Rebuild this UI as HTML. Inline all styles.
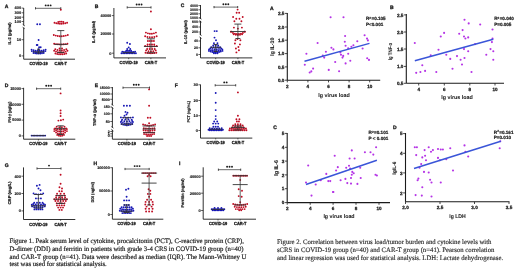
<!DOCTYPE html><html><head><meta charset="utf-8"><style>html,body{margin:0;padding:0;background:#fff;}svg{display:block;filter:blur(0.25px);text-rendering:geometricPrecision;}.cap{position:absolute;font-family:"Liberation Serif",serif;color:#222;white-space:nowrap;}</style></head><body>
<svg width="520" height="269" viewBox="0 0 520 269" style="position:absolute;left:0;top:0;font-family:'Liberation Sans',sans-serif;font-weight:bold">
<rect width="520" height="269" fill="#fff"/>
<text x="4.80" y="8.30" font-size="5.0" text-anchor="start" fill="#1a1a1a" font-weight="bold" stroke="#1a1a1a" stroke-width="0.3">A</text>
<line x1="23.70" y1="8.00" x2="23.70" y2="59.20" stroke="#1a1a1a" stroke-width="0.9"/>
<line x1="23.70" y1="59.20" x2="75.00" y2="59.20" stroke="#1a1a1a" stroke-width="0.9"/>
<line x1="38.60" y1="59.20" x2="38.60" y2="60.50" stroke="#1a1a1a" stroke-width="0.7"/>
<line x1="60.80" y1="59.20" x2="60.80" y2="60.50" stroke="#1a1a1a" stroke-width="0.7"/>
<text x="38.60" y="65.30" font-size="4.4" text-anchor="middle" fill="#1a1a1a" font-weight="bold" stroke="#1a1a1a" stroke-width="0.3" textLength="18.2" lengthAdjust="spacingAndGlyphs">COVID-19</text>
<text x="60.80" y="65.30" font-size="4.4" text-anchor="middle" fill="#1a1a1a" font-weight="bold" stroke="#1a1a1a" stroke-width="0.3" textLength="12.4" lengthAdjust="spacingAndGlyphs">CAR-T</text>
<line x1="21.60" y1="8.10" x2="23.70" y2="8.10" stroke="#1a1a1a" stroke-width="0.7"/>
<text x="21.10" y="9.45" font-size="3.9" text-anchor="end" fill="#1a1a1a" font-weight="bold" stroke="#1a1a1a" stroke-width="0.15">400</text>
<line x1="21.60" y1="12.80" x2="23.70" y2="12.80" stroke="#1a1a1a" stroke-width="0.7"/>
<text x="21.10" y="14.15" font-size="3.9" text-anchor="end" fill="#1a1a1a" font-weight="bold" stroke="#1a1a1a" stroke-width="0.15">300</text>
<line x1="21.60" y1="17.20" x2="23.70" y2="17.20" stroke="#1a1a1a" stroke-width="0.7"/>
<text x="21.10" y="18.55" font-size="3.9" text-anchor="end" fill="#1a1a1a" font-weight="bold" stroke="#1a1a1a" stroke-width="0.15">200</text>
<line x1="21.60" y1="21.50" x2="23.70" y2="21.50" stroke="#1a1a1a" stroke-width="0.7"/>
<text x="21.10" y="22.85" font-size="3.9" text-anchor="end" fill="#1a1a1a" font-weight="bold" stroke="#1a1a1a" stroke-width="0.15">100</text>
<line x1="21.60" y1="39.70" x2="23.70" y2="39.70" stroke="#1a1a1a" stroke-width="0.7"/>
<text x="21.10" y="41.05" font-size="3.9" text-anchor="end" fill="#1a1a1a" font-weight="bold" stroke="#1a1a1a" stroke-width="0.15">10</text>
<line x1="21.60" y1="55.90" x2="23.70" y2="55.90" stroke="#1a1a1a" stroke-width="0.7"/>
<text x="21.10" y="57.25" font-size="3.9" text-anchor="end" fill="#1a1a1a" font-weight="bold" stroke="#1a1a1a" stroke-width="0.15">0</text>
<rect x="22.9" y="25.5" width="1.6" height="2.0" fill="#fff"/>
<line x1="22.50" y1="24.10" x2="24.90" y2="25.90" stroke="#1a1a1a" stroke-width="0.6"/>
<line x1="22.50" y1="27.10" x2="24.90" y2="28.90" stroke="#1a1a1a" stroke-width="0.6"/>
<text x="11.20" y="33.40" font-size="4.1" text-anchor="middle" fill="#1a1a1a" font-weight="bold" stroke="#1a1a1a" stroke-width="0.2" transform="rotate(-90 11.2 33.4)" textLength="22.0" lengthAdjust="spacingAndGlyphs">IL-2 (pg/ml)</text>
<line x1="35.50" y1="8.30" x2="60.80" y2="8.30" stroke="#6a6a6a" stroke-width="1.0"/>
<line x1="35.50" y1="7.20" x2="35.50" y2="9.40" stroke="#333" stroke-width="0.9"/>
<line x1="60.80" y1="7.20" x2="60.80" y2="9.40" stroke="#333" stroke-width="0.9"/>
<circle cx="45.70" cy="5.40" r="0.95" fill="#1a1a1a"/>
<circle cx="48.15" cy="5.40" r="0.95" fill="#1a1a1a"/>
<circle cx="50.60" cy="5.40" r="0.95" fill="#1a1a1a"/>
<circle cx="37.25" cy="24.30" r="0.95" fill="#1616b4"/>
<circle cx="39.95" cy="24.30" r="0.95" fill="#1616b4"/>
<circle cx="38.60" cy="40.00" r="0.95" fill="#1616b4"/>
<circle cx="36.75" cy="45.00" r="0.95" fill="#1616b4"/>
<circle cx="37.45" cy="45.00" r="0.95" fill="#1616b4"/>
<circle cx="39.10" cy="47.30" r="0.95" fill="#1616b4"/>
<circle cx="40.70" cy="47.30" r="0.95" fill="#1616b4"/>
<circle cx="38.60" cy="49.30" r="0.95" fill="#1616b4"/>
<circle cx="31.60" cy="49.60" r="0.95" fill="#1616b4"/>
<circle cx="33.60" cy="50.19" r="0.95" fill="#1616b4"/>
<circle cx="35.60" cy="50.58" r="0.95" fill="#1616b4"/>
<circle cx="37.60" cy="50.78" r="0.95" fill="#1616b4"/>
<circle cx="39.60" cy="50.78" r="0.95" fill="#1616b4"/>
<circle cx="41.60" cy="50.58" r="0.95" fill="#1616b4"/>
<circle cx="43.60" cy="50.19" r="0.95" fill="#1616b4"/>
<circle cx="45.60" cy="49.60" r="0.95" fill="#1616b4"/>
<circle cx="31.80" cy="51.10" r="0.95" fill="#1616b4"/>
<circle cx="33.50" cy="51.62" r="0.95" fill="#1616b4"/>
<circle cx="35.20" cy="52.00" r="0.95" fill="#1616b4"/>
<circle cx="36.90" cy="52.22" r="0.95" fill="#1616b4"/>
<circle cx="38.60" cy="52.30" r="0.95" fill="#1616b4"/>
<circle cx="40.30" cy="52.22" r="0.95" fill="#1616b4"/>
<circle cx="42.00" cy="52.00" r="0.95" fill="#1616b4"/>
<circle cx="43.70" cy="51.62" r="0.95" fill="#1616b4"/>
<circle cx="45.40" cy="51.10" r="0.95" fill="#1616b4"/>
<circle cx="33.50" cy="53.00" r="0.95" fill="#1616b4"/>
<circle cx="35.20" cy="53.33" r="0.95" fill="#1616b4"/>
<circle cx="36.90" cy="53.53" r="0.95" fill="#1616b4"/>
<circle cx="38.60" cy="53.60" r="0.95" fill="#1616b4"/>
<circle cx="40.30" cy="53.53" r="0.95" fill="#1616b4"/>
<circle cx="42.00" cy="53.33" r="0.95" fill="#1616b4"/>
<circle cx="43.70" cy="53.00" r="0.95" fill="#1616b4"/>
<circle cx="60.80" cy="9.70" r="0.95" fill="#be0c22"/>
<circle cx="58.25" cy="22.00" r="0.95" fill="#be0c22"/>
<circle cx="59.95" cy="21.64" r="0.95" fill="#be0c22"/>
<circle cx="61.65" cy="21.64" r="0.95" fill="#be0c22"/>
<circle cx="63.35" cy="22.00" r="0.95" fill="#be0c22"/>
<circle cx="54.50" cy="22.80" r="0.95" fill="#be0c22"/>
<circle cx="56.30" cy="23.29" r="0.95" fill="#be0c22"/>
<circle cx="58.10" cy="23.62" r="0.95" fill="#be0c22"/>
<circle cx="59.90" cy="23.78" r="0.95" fill="#be0c22"/>
<circle cx="61.70" cy="23.78" r="0.95" fill="#be0c22"/>
<circle cx="63.50" cy="23.62" r="0.95" fill="#be0c22"/>
<circle cx="65.30" cy="23.29" r="0.95" fill="#be0c22"/>
<circle cx="67.10" cy="22.80" r="0.95" fill="#be0c22"/>
<circle cx="53.80" cy="35.00" r="0.95" fill="#be0c22"/>
<circle cx="55.80" cy="35.59" r="0.95" fill="#be0c22"/>
<circle cx="57.80" cy="35.98" r="0.95" fill="#be0c22"/>
<circle cx="59.80" cy="36.18" r="0.95" fill="#be0c22"/>
<circle cx="61.80" cy="36.18" r="0.95" fill="#be0c22"/>
<circle cx="63.80" cy="35.98" r="0.95" fill="#be0c22"/>
<circle cx="65.80" cy="35.59" r="0.95" fill="#be0c22"/>
<circle cx="67.80" cy="35.00" r="0.95" fill="#be0c22"/>
<circle cx="54.15" cy="43.80" r="0.95" fill="#be0c22"/>
<circle cx="56.05" cy="44.09" r="0.95" fill="#be0c22"/>
<circle cx="57.95" cy="44.29" r="0.95" fill="#be0c22"/>
<circle cx="59.85" cy="44.39" r="0.95" fill="#be0c22"/>
<circle cx="61.75" cy="44.39" r="0.95" fill="#be0c22"/>
<circle cx="63.65" cy="44.29" r="0.95" fill="#be0c22"/>
<circle cx="65.55" cy="44.09" r="0.95" fill="#be0c22"/>
<circle cx="67.45" cy="43.80" r="0.95" fill="#be0c22"/>
<circle cx="59.55" cy="48.50" r="0.95" fill="#be0c22"/>
<circle cx="62.05" cy="48.50" r="0.95" fill="#be0c22"/>
<circle cx="55.30" cy="49.30" r="0.95" fill="#be0c22"/>
<circle cx="57.50" cy="50.07" r="0.95" fill="#be0c22"/>
<circle cx="59.70" cy="50.45" r="0.95" fill="#be0c22"/>
<circle cx="61.90" cy="50.45" r="0.95" fill="#be0c22"/>
<circle cx="64.10" cy="50.07" r="0.95" fill="#be0c22"/>
<circle cx="66.30" cy="49.30" r="0.95" fill="#be0c22"/>
<circle cx="54.15" cy="50.70" r="0.95" fill="#be0c22"/>
<circle cx="56.05" cy="51.58" r="0.95" fill="#be0c22"/>
<circle cx="57.95" cy="52.17" r="0.95" fill="#be0c22"/>
<circle cx="59.85" cy="52.46" r="0.95" fill="#be0c22"/>
<circle cx="61.75" cy="52.46" r="0.95" fill="#be0c22"/>
<circle cx="63.65" cy="52.17" r="0.95" fill="#be0c22"/>
<circle cx="65.55" cy="51.58" r="0.95" fill="#be0c22"/>
<circle cx="67.45" cy="50.70" r="0.95" fill="#be0c22"/>
<circle cx="55.40" cy="53.50" r="0.95" fill="#be0c22"/>
<circle cx="57.20" cy="53.94" r="0.95" fill="#be0c22"/>
<circle cx="59.00" cy="54.21" r="0.95" fill="#be0c22"/>
<circle cx="60.80" cy="54.30" r="0.95" fill="#be0c22"/>
<circle cx="62.60" cy="54.21" r="0.95" fill="#be0c22"/>
<circle cx="64.40" cy="53.94" r="0.95" fill="#be0c22"/>
<circle cx="66.20" cy="53.50" r="0.95" fill="#be0c22"/>
<line x1="38.60" y1="49.20" x2="38.60" y2="53.20" stroke="#3a3a3a" stroke-width="0.8"/>
<line x1="33.10" y1="51.90" x2="44.10" y2="51.90" stroke="#333" stroke-width="0.9"/>
<line x1="37.10" y1="49.20" x2="40.10" y2="49.20" stroke="#333" stroke-width="0.9"/>
<line x1="37.10" y1="53.20" x2="40.10" y2="53.20" stroke="#333" stroke-width="0.9"/>
<line x1="60.80" y1="30.60" x2="60.80" y2="52.50" stroke="#3a3a3a" stroke-width="0.8"/>
<line x1="54.30" y1="44.40" x2="67.30" y2="44.40" stroke="#333" stroke-width="0.9"/>
<line x1="57.30" y1="30.60" x2="64.30" y2="30.60" stroke="#333" stroke-width="0.9"/>
<line x1="57.30" y1="52.50" x2="64.30" y2="52.50" stroke="#333" stroke-width="0.9"/>
<text x="94.80" y="8.30" font-size="5.0" text-anchor="start" fill="#1a1a1a" font-weight="bold" stroke="#1a1a1a" stroke-width="0.3">B</text>
<line x1="113.90" y1="8.00" x2="113.90" y2="57.90" stroke="#1a1a1a" stroke-width="0.9"/>
<line x1="113.90" y1="57.90" x2="166.00" y2="57.90" stroke="#1a1a1a" stroke-width="0.9"/>
<line x1="128.70" y1="57.90" x2="128.70" y2="59.20" stroke="#1a1a1a" stroke-width="0.7"/>
<line x1="150.90" y1="57.90" x2="150.90" y2="59.20" stroke="#1a1a1a" stroke-width="0.7"/>
<text x="128.70" y="64.00" font-size="4.4" text-anchor="middle" fill="#1a1a1a" font-weight="bold" stroke="#1a1a1a" stroke-width="0.3" textLength="18.2" lengthAdjust="spacingAndGlyphs">COVID-19</text>
<text x="150.90" y="64.00" font-size="4.4" text-anchor="middle" fill="#1a1a1a" font-weight="bold" stroke="#1a1a1a" stroke-width="0.3" textLength="12.4" lengthAdjust="spacingAndGlyphs">CAR-T</text>
<line x1="111.80" y1="15.60" x2="113.90" y2="15.60" stroke="#1a1a1a" stroke-width="0.7"/>
<text x="111.30" y="16.95" font-size="3.9" text-anchor="end" fill="#1a1a1a" font-weight="bold" stroke="#1a1a1a" stroke-width="0.15">40000</text>
<line x1="111.80" y1="34.00" x2="113.90" y2="34.00" stroke="#1a1a1a" stroke-width="0.7"/>
<text x="111.30" y="35.35" font-size="3.9" text-anchor="end" fill="#1a1a1a" font-weight="bold" stroke="#1a1a1a" stroke-width="0.15">20000</text>
<line x1="111.80" y1="53.20" x2="113.90" y2="53.20" stroke="#1a1a1a" stroke-width="0.7"/>
<text x="111.30" y="54.55" font-size="3.9" text-anchor="end" fill="#1a1a1a" font-weight="bold" stroke="#1a1a1a" stroke-width="0.15">0</text>
<text x="95.00" y="31.90" font-size="4.1" text-anchor="middle" fill="#1a1a1a" font-weight="bold" stroke="#1a1a1a" stroke-width="0.2" transform="rotate(-90 95.0 31.9)" textLength="22.3" lengthAdjust="spacingAndGlyphs">IL-6 (pg/ml)</text>
<line x1="127.20" y1="7.40" x2="151.00" y2="7.40" stroke="#6a6a6a" stroke-width="1.0"/>
<line x1="127.20" y1="6.30" x2="127.20" y2="8.50" stroke="#333" stroke-width="0.9"/>
<line x1="151.00" y1="6.30" x2="151.00" y2="8.50" stroke="#333" stroke-width="0.9"/>
<circle cx="136.65" cy="4.50" r="0.95" fill="#1a1a1a"/>
<circle cx="139.10" cy="4.50" r="0.95" fill="#1a1a1a"/>
<circle cx="141.55" cy="4.50" r="0.95" fill="#1a1a1a"/>
<circle cx="127.20" cy="42.80" r="0.95" fill="#1616b4"/>
<circle cx="129.90" cy="44.00" r="0.95" fill="#1616b4"/>
<circle cx="128.70" cy="47.40" r="0.95" fill="#1616b4"/>
<circle cx="127.20" cy="49.00" r="0.95" fill="#1616b4"/>
<circle cx="130.20" cy="49.00" r="0.95" fill="#1616b4"/>
<circle cx="126.30" cy="50.80" r="0.95" fill="#1616b4"/>
<circle cx="127.90" cy="50.80" r="0.95" fill="#1616b4"/>
<circle cx="129.50" cy="50.80" r="0.95" fill="#1616b4"/>
<circle cx="131.10" cy="50.80" r="0.95" fill="#1616b4"/>
<circle cx="122.30" cy="51.60" r="0.95" fill="#1616b4"/>
<circle cx="123.90" cy="51.86" r="0.95" fill="#1616b4"/>
<circle cx="125.50" cy="52.05" r="0.95" fill="#1616b4"/>
<circle cx="127.10" cy="52.16" r="0.95" fill="#1616b4"/>
<circle cx="128.70" cy="52.20" r="0.95" fill="#1616b4"/>
<circle cx="130.30" cy="52.16" r="0.95" fill="#1616b4"/>
<circle cx="131.90" cy="52.05" r="0.95" fill="#1616b4"/>
<circle cx="133.50" cy="51.86" r="0.95" fill="#1616b4"/>
<circle cx="135.10" cy="51.60" r="0.95" fill="#1616b4"/>
<circle cx="121.50" cy="53.30" r="0.95" fill="#1616b4"/>
<circle cx="123.10" cy="53.30" r="0.95" fill="#1616b4"/>
<circle cx="124.70" cy="53.30" r="0.95" fill="#1616b4"/>
<circle cx="126.30" cy="53.30" r="0.95" fill="#1616b4"/>
<circle cx="127.90" cy="53.30" r="0.95" fill="#1616b4"/>
<circle cx="129.50" cy="53.30" r="0.95" fill="#1616b4"/>
<circle cx="131.10" cy="53.30" r="0.95" fill="#1616b4"/>
<circle cx="132.70" cy="53.30" r="0.95" fill="#1616b4"/>
<circle cx="134.30" cy="53.30" r="0.95" fill="#1616b4"/>
<circle cx="135.90" cy="53.30" r="0.95" fill="#1616b4"/>
<circle cx="150.90" cy="11.50" r="0.95" fill="#be0c22"/>
<circle cx="150.90" cy="29.30" r="0.95" fill="#be0c22"/>
<circle cx="145.90" cy="32.60" r="0.95" fill="#be0c22"/>
<circle cx="147.90" cy="33.37" r="0.95" fill="#be0c22"/>
<circle cx="149.90" cy="33.75" r="0.95" fill="#be0c22"/>
<circle cx="151.90" cy="33.75" r="0.95" fill="#be0c22"/>
<circle cx="153.90" cy="33.37" r="0.95" fill="#be0c22"/>
<circle cx="155.90" cy="32.60" r="0.95" fill="#be0c22"/>
<circle cx="145.15" cy="36.30" r="0.95" fill="#be0c22"/>
<circle cx="147.45" cy="36.94" r="0.95" fill="#be0c22"/>
<circle cx="149.75" cy="37.26" r="0.95" fill="#be0c22"/>
<circle cx="152.05" cy="37.26" r="0.95" fill="#be0c22"/>
<circle cx="154.35" cy="36.94" r="0.95" fill="#be0c22"/>
<circle cx="156.65" cy="36.30" r="0.95" fill="#be0c22"/>
<circle cx="147.90" cy="41.00" r="0.95" fill="#be0c22"/>
<circle cx="149.90" cy="41.00" r="0.95" fill="#be0c22"/>
<circle cx="151.90" cy="41.00" r="0.95" fill="#be0c22"/>
<circle cx="153.90" cy="41.00" r="0.95" fill="#be0c22"/>
<circle cx="147.60" cy="44.50" r="0.95" fill="#be0c22"/>
<circle cx="149.80" cy="44.50" r="0.95" fill="#be0c22"/>
<circle cx="152.00" cy="44.50" r="0.95" fill="#be0c22"/>
<circle cx="154.20" cy="44.50" r="0.95" fill="#be0c22"/>
<circle cx="145.15" cy="46.00" r="0.95" fill="#be0c22"/>
<circle cx="147.45" cy="46.32" r="0.95" fill="#be0c22"/>
<circle cx="149.75" cy="46.48" r="0.95" fill="#be0c22"/>
<circle cx="152.05" cy="46.48" r="0.95" fill="#be0c22"/>
<circle cx="154.35" cy="46.32" r="0.95" fill="#be0c22"/>
<circle cx="156.65" cy="46.00" r="0.95" fill="#be0c22"/>
<circle cx="147.15" cy="49.00" r="0.95" fill="#be0c22"/>
<circle cx="149.65" cy="49.00" r="0.95" fill="#be0c22"/>
<circle cx="152.15" cy="49.00" r="0.95" fill="#be0c22"/>
<circle cx="154.65" cy="49.00" r="0.95" fill="#be0c22"/>
<circle cx="146.10" cy="50.40" r="0.95" fill="#be0c22"/>
<circle cx="148.50" cy="51.15" r="0.95" fill="#be0c22"/>
<circle cx="150.90" cy="51.40" r="0.95" fill="#be0c22"/>
<circle cx="153.30" cy="51.15" r="0.95" fill="#be0c22"/>
<circle cx="155.70" cy="50.40" r="0.95" fill="#be0c22"/>
<circle cx="145.50" cy="52.70" r="0.95" fill="#be0c22"/>
<circle cx="147.30" cy="52.98" r="0.95" fill="#be0c22"/>
<circle cx="149.10" cy="53.14" r="0.95" fill="#be0c22"/>
<circle cx="150.90" cy="53.20" r="0.95" fill="#be0c22"/>
<circle cx="152.70" cy="53.14" r="0.95" fill="#be0c22"/>
<circle cx="154.50" cy="52.98" r="0.95" fill="#be0c22"/>
<circle cx="156.30" cy="52.70" r="0.95" fill="#be0c22"/>
<line x1="128.70" y1="52.70" x2="128.70" y2="52.70" stroke="#3a3a3a" stroke-width="0.8"/>
<line x1="122.70" y1="52.70" x2="134.70" y2="52.70" stroke="#333" stroke-width="0.9"/>
<line x1="150.90" y1="38.80" x2="150.90" y2="52.80" stroke="#3a3a3a" stroke-width="0.8"/>
<line x1="143.90" y1="46.50" x2="157.90" y2="46.50" stroke="#333" stroke-width="0.9"/>
<line x1="146.90" y1="38.80" x2="154.90" y2="38.80" stroke="#333" stroke-width="0.9"/>
<line x1="146.90" y1="52.80" x2="154.90" y2="52.80" stroke="#333" stroke-width="0.9"/>
<text x="180.80" y="6.50" font-size="5.0" text-anchor="start" fill="#1a1a1a" font-weight="bold" stroke="#1a1a1a" stroke-width="0.3">C</text>
<line x1="200.50" y1="5.00" x2="200.50" y2="57.90" stroke="#1a1a1a" stroke-width="0.9"/>
<line x1="200.50" y1="57.90" x2="252.30" y2="57.90" stroke="#1a1a1a" stroke-width="0.9"/>
<line x1="215.70" y1="57.90" x2="215.70" y2="59.20" stroke="#1a1a1a" stroke-width="0.7"/>
<line x1="237.90" y1="57.90" x2="237.90" y2="59.20" stroke="#1a1a1a" stroke-width="0.7"/>
<text x="215.70" y="64.00" font-size="4.4" text-anchor="middle" fill="#1a1a1a" font-weight="bold" stroke="#1a1a1a" stroke-width="0.3" textLength="18.2" lengthAdjust="spacingAndGlyphs">COVID-19</text>
<text x="237.90" y="64.00" font-size="4.4" text-anchor="middle" fill="#1a1a1a" font-weight="bold" stroke="#1a1a1a" stroke-width="0.3" textLength="12.4" lengthAdjust="spacingAndGlyphs">CAR-T</text>
<line x1="198.40" y1="5.60" x2="200.50" y2="5.60" stroke="#1a1a1a" stroke-width="0.7"/>
<text x="197.90" y="6.95" font-size="3.5" text-anchor="end" fill="#1a1a1a" font-weight="bold" stroke="#1a1a1a" stroke-width="0.15">4000</text>
<line x1="198.40" y1="9.80" x2="200.50" y2="9.80" stroke="#1a1a1a" stroke-width="0.7"/>
<text x="197.90" y="11.15" font-size="3.5" text-anchor="end" fill="#1a1a1a" font-weight="bold" stroke="#1a1a1a" stroke-width="0.15">3000</text>
<line x1="198.40" y1="13.80" x2="200.50" y2="13.80" stroke="#1a1a1a" stroke-width="0.7"/>
<text x="197.90" y="15.15" font-size="3.5" text-anchor="end" fill="#1a1a1a" font-weight="bold" stroke="#1a1a1a" stroke-width="0.15">2000</text>
<line x1="198.40" y1="18.00" x2="200.50" y2="18.00" stroke="#1a1a1a" stroke-width="0.7"/>
<text x="197.90" y="19.35" font-size="3.5" text-anchor="end" fill="#1a1a1a" font-weight="bold" stroke="#1a1a1a" stroke-width="0.15">1000</text>
<line x1="198.40" y1="21.90" x2="200.50" y2="21.90" stroke="#1a1a1a" stroke-width="0.7"/>
<text x="197.90" y="23.25" font-size="3.5" text-anchor="end" fill="#1a1a1a" font-weight="bold" stroke="#1a1a1a" stroke-width="0.15">600</text>
<line x1="198.40" y1="27.00" x2="200.50" y2="27.00" stroke="#1a1a1a" stroke-width="0.7"/>
<text x="197.90" y="28.35" font-size="3.5" text-anchor="end" fill="#1a1a1a" font-weight="bold" stroke="#1a1a1a" stroke-width="0.15">400</text>
<line x1="198.40" y1="32.00" x2="200.50" y2="32.00" stroke="#1a1a1a" stroke-width="0.7"/>
<text x="197.90" y="33.35" font-size="3.5" text-anchor="end" fill="#1a1a1a" font-weight="bold" stroke="#1a1a1a" stroke-width="0.15">200</text>
<line x1="198.40" y1="41.00" x2="200.50" y2="41.00" stroke="#1a1a1a" stroke-width="0.7"/>
<text x="197.90" y="42.35" font-size="3.5" text-anchor="end" fill="#1a1a1a" font-weight="bold" stroke="#1a1a1a" stroke-width="0.15">40</text>
<line x1="198.40" y1="47.80" x2="200.50" y2="47.80" stroke="#1a1a1a" stroke-width="0.7"/>
<text x="197.90" y="49.15" font-size="3.5" text-anchor="end" fill="#1a1a1a" font-weight="bold" stroke="#1a1a1a" stroke-width="0.15">20</text>
<line x1="198.40" y1="54.50" x2="200.50" y2="54.50" stroke="#1a1a1a" stroke-width="0.7"/>
<text x="197.90" y="55.85" font-size="3.5" text-anchor="end" fill="#1a1a1a" font-weight="bold" stroke="#1a1a1a" stroke-width="0.15">0</text>
<rect x="199.7" y="18.9" width="1.6" height="2.0" fill="#fff"/>
<line x1="199.30" y1="17.50" x2="201.70" y2="19.30" stroke="#1a1a1a" stroke-width="0.6"/>
<line x1="199.30" y1="20.50" x2="201.70" y2="22.30" stroke="#1a1a1a" stroke-width="0.6"/>
<rect x="199.7" y="35.2" width="1.6" height="2.0" fill="#fff"/>
<line x1="199.30" y1="33.80" x2="201.70" y2="35.60" stroke="#1a1a1a" stroke-width="0.6"/>
<line x1="199.30" y1="36.80" x2="201.70" y2="38.60" stroke="#1a1a1a" stroke-width="0.6"/>
<text x="187.30" y="32.10" font-size="4.1" text-anchor="middle" fill="#1a1a1a" font-weight="bold" stroke="#1a1a1a" stroke-width="0.2" transform="rotate(-90 187.3 32.1)" textLength="24.2" lengthAdjust="spacingAndGlyphs">IL-10 (pg/ml)</text>
<line x1="214.00" y1="7.10" x2="237.70" y2="7.10" stroke="#6a6a6a" stroke-width="1.0"/>
<line x1="214.00" y1="6.00" x2="214.00" y2="8.20" stroke="#333" stroke-width="0.9"/>
<line x1="237.70" y1="6.00" x2="237.70" y2="8.20" stroke="#333" stroke-width="0.9"/>
<circle cx="223.40" cy="4.20" r="0.95" fill="#1a1a1a"/>
<circle cx="225.85" cy="4.20" r="0.95" fill="#1a1a1a"/>
<circle cx="228.30" cy="4.20" r="0.95" fill="#1a1a1a"/>
<circle cx="214.60" cy="31.10" r="0.95" fill="#1616b4"/>
<circle cx="216.80" cy="31.10" r="0.95" fill="#1616b4"/>
<circle cx="214.50" cy="37.60" r="0.95" fill="#1616b4"/>
<circle cx="216.00" cy="40.20" r="0.95" fill="#1616b4"/>
<circle cx="213.95" cy="43.20" r="0.95" fill="#1616b4"/>
<circle cx="217.45" cy="43.20" r="0.95" fill="#1616b4"/>
<circle cx="213.20" cy="45.50" r="0.95" fill="#1616b4"/>
<circle cx="215.70" cy="45.50" r="0.95" fill="#1616b4"/>
<circle cx="218.20" cy="45.50" r="0.95" fill="#1616b4"/>
<circle cx="211.30" cy="47.30" r="0.95" fill="#1616b4"/>
<circle cx="213.50" cy="47.30" r="0.95" fill="#1616b4"/>
<circle cx="215.70" cy="47.30" r="0.95" fill="#1616b4"/>
<circle cx="217.90" cy="47.30" r="0.95" fill="#1616b4"/>
<circle cx="220.10" cy="47.30" r="0.95" fill="#1616b4"/>
<circle cx="210.20" cy="48.40" r="0.95" fill="#1616b4"/>
<circle cx="212.40" cy="48.91" r="0.95" fill="#1616b4"/>
<circle cx="214.60" cy="49.17" r="0.95" fill="#1616b4"/>
<circle cx="216.80" cy="49.17" r="0.95" fill="#1616b4"/>
<circle cx="219.00" cy="48.91" r="0.95" fill="#1616b4"/>
<circle cx="221.20" cy="48.40" r="0.95" fill="#1616b4"/>
<circle cx="209.05" cy="49.50" r="0.95" fill="#1616b4"/>
<circle cx="210.95" cy="50.23" r="0.95" fill="#1616b4"/>
<circle cx="212.85" cy="50.72" r="0.95" fill="#1616b4"/>
<circle cx="214.75" cy="50.97" r="0.95" fill="#1616b4"/>
<circle cx="216.65" cy="50.97" r="0.95" fill="#1616b4"/>
<circle cx="218.55" cy="50.72" r="0.95" fill="#1616b4"/>
<circle cx="220.45" cy="50.23" r="0.95" fill="#1616b4"/>
<circle cx="222.35" cy="49.50" r="0.95" fill="#1616b4"/>
<circle cx="208.90" cy="50.90" r="0.95" fill="#1616b4"/>
<circle cx="210.60" cy="51.56" r="0.95" fill="#1616b4"/>
<circle cx="212.30" cy="52.02" r="0.95" fill="#1616b4"/>
<circle cx="214.00" cy="52.31" r="0.95" fill="#1616b4"/>
<circle cx="215.70" cy="52.40" r="0.95" fill="#1616b4"/>
<circle cx="217.40" cy="52.31" r="0.95" fill="#1616b4"/>
<circle cx="219.10" cy="52.02" r="0.95" fill="#1616b4"/>
<circle cx="220.80" cy="51.56" r="0.95" fill="#1616b4"/>
<circle cx="222.50" cy="50.90" r="0.95" fill="#1616b4"/>
<circle cx="213.90" cy="53.30" r="0.95" fill="#1616b4"/>
<circle cx="215.70" cy="53.30" r="0.95" fill="#1616b4"/>
<circle cx="217.50" cy="53.30" r="0.95" fill="#1616b4"/>
<circle cx="237.60" cy="9.60" r="0.95" fill="#be0c22"/>
<circle cx="236.65" cy="12.80" r="0.95" fill="#be0c22"/>
<circle cx="239.15" cy="12.80" r="0.95" fill="#be0c22"/>
<circle cx="233.10" cy="17.00" r="0.95" fill="#be0c22"/>
<circle cx="236.30" cy="18.78" r="0.95" fill="#be0c22"/>
<circle cx="239.50" cy="18.78" r="0.95" fill="#be0c22"/>
<circle cx="242.70" cy="17.00" r="0.95" fill="#be0c22"/>
<circle cx="234.40" cy="21.20" r="0.95" fill="#be0c22"/>
<circle cx="241.40" cy="21.20" r="0.95" fill="#be0c22"/>
<circle cx="233.90" cy="27.60" r="0.95" fill="#be0c22"/>
<circle cx="237.90" cy="28.60" r="0.95" fill="#be0c22"/>
<circle cx="241.90" cy="27.60" r="0.95" fill="#be0c22"/>
<circle cx="231.40" cy="31.60" r="0.95" fill="#be0c22"/>
<circle cx="244.40" cy="31.60" r="0.95" fill="#be0c22"/>
<circle cx="230.90" cy="31.80" r="0.95" fill="#be0c22"/>
<circle cx="232.90" cy="32.88" r="0.95" fill="#be0c22"/>
<circle cx="234.90" cy="33.60" r="0.95" fill="#be0c22"/>
<circle cx="236.90" cy="33.96" r="0.95" fill="#be0c22"/>
<circle cx="238.90" cy="33.96" r="0.95" fill="#be0c22"/>
<circle cx="240.90" cy="33.60" r="0.95" fill="#be0c22"/>
<circle cx="242.90" cy="32.88" r="0.95" fill="#be0c22"/>
<circle cx="244.90" cy="31.80" r="0.95" fill="#be0c22"/>
<circle cx="233.70" cy="34.20" r="0.95" fill="#be0c22"/>
<circle cx="235.80" cy="34.80" r="0.95" fill="#be0c22"/>
<circle cx="237.90" cy="35.00" r="0.95" fill="#be0c22"/>
<circle cx="240.00" cy="34.80" r="0.95" fill="#be0c22"/>
<circle cx="242.10" cy="34.20" r="0.95" fill="#be0c22"/>
<circle cx="237.50" cy="39.00" r="0.95" fill="#be0c22"/>
<circle cx="235.40" cy="40.30" r="0.95" fill="#be0c22"/>
<circle cx="240.40" cy="40.30" r="0.95" fill="#be0c22"/>
<circle cx="234.90" cy="43.50" r="0.95" fill="#be0c22"/>
<circle cx="239.90" cy="44.40" r="0.95" fill="#be0c22"/>
<circle cx="238.40" cy="47.00" r="0.95" fill="#be0c22"/>
<circle cx="235.90" cy="48.50" r="0.95" fill="#be0c22"/>
<circle cx="238.90" cy="50.30" r="0.95" fill="#be0c22"/>
<circle cx="236.40" cy="52.40" r="0.95" fill="#be0c22"/>
<line x1="215.70" y1="44.50" x2="215.70" y2="51.50" stroke="#3a3a3a" stroke-width="0.8"/>
<line x1="210.20" y1="47.30" x2="221.20" y2="47.30" stroke="#333" stroke-width="0.9"/>
<line x1="213.70" y1="44.50" x2="217.70" y2="44.50" stroke="#333" stroke-width="0.9"/>
<line x1="213.70" y1="51.50" x2="217.70" y2="51.50" stroke="#333" stroke-width="0.9"/>
<line x1="237.90" y1="24.10" x2="237.90" y2="38.50" stroke="#3a3a3a" stroke-width="0.8"/>
<line x1="230.40" y1="31.50" x2="245.40" y2="31.50" stroke="#333" stroke-width="0.9"/>
<line x1="234.40" y1="24.10" x2="241.40" y2="24.10" stroke="#333" stroke-width="0.9"/>
<line x1="235.40" y1="38.50" x2="240.40" y2="38.50" stroke="#333" stroke-width="0.9"/>
<text x="4.80" y="87.30" font-size="5.0" text-anchor="start" fill="#1a1a1a" font-weight="bold" stroke="#1a1a1a" stroke-width="0.3">D</text>
<line x1="23.60" y1="87.80" x2="23.60" y2="139.20" stroke="#1a1a1a" stroke-width="0.9"/>
<line x1="23.60" y1="139.20" x2="75.30" y2="139.20" stroke="#1a1a1a" stroke-width="0.9"/>
<line x1="38.40" y1="139.20" x2="38.40" y2="140.50" stroke="#1a1a1a" stroke-width="0.7"/>
<line x1="60.60" y1="139.20" x2="60.60" y2="140.50" stroke="#1a1a1a" stroke-width="0.7"/>
<text x="38.40" y="145.30" font-size="4.4" text-anchor="middle" fill="#1a1a1a" font-weight="bold" stroke="#1a1a1a" stroke-width="0.3" textLength="18.2" lengthAdjust="spacingAndGlyphs">COVID-19</text>
<text x="60.60" y="145.30" font-size="4.4" text-anchor="middle" fill="#1a1a1a" font-weight="bold" stroke="#1a1a1a" stroke-width="0.3" textLength="12.4" lengthAdjust="spacingAndGlyphs">CAR-T</text>
<line x1="21.50" y1="88.60" x2="23.60" y2="88.60" stroke="#1a1a1a" stroke-width="0.7"/>
<text x="21.00" y="89.95" font-size="3.9" text-anchor="end" fill="#1a1a1a" font-weight="bold" stroke="#1a1a1a" stroke-width="0.15">15000</text>
<line x1="21.50" y1="104.30" x2="23.60" y2="104.30" stroke="#1a1a1a" stroke-width="0.7"/>
<text x="21.00" y="105.65" font-size="3.9" text-anchor="end" fill="#1a1a1a" font-weight="bold" stroke="#1a1a1a" stroke-width="0.15">10000</text>
<line x1="21.50" y1="120.10" x2="23.60" y2="120.10" stroke="#1a1a1a" stroke-width="0.7"/>
<text x="21.00" y="121.45" font-size="3.9" text-anchor="end" fill="#1a1a1a" font-weight="bold" stroke="#1a1a1a" stroke-width="0.15">5000</text>
<line x1="21.50" y1="135.90" x2="23.60" y2="135.90" stroke="#1a1a1a" stroke-width="0.7"/>
<text x="21.00" y="137.25" font-size="3.9" text-anchor="end" fill="#1a1a1a" font-weight="bold" stroke="#1a1a1a" stroke-width="0.15">0</text>
<text x="10.80" y="112.20" font-size="4.1" text-anchor="middle" fill="#1a1a1a" font-weight="bold" stroke="#1a1a1a" stroke-width="0.2" transform="rotate(-90 10.8 112.2)" textLength="21.5" lengthAdjust="spacingAndGlyphs">IFN-γ (pg/ml)</text>
<line x1="36.60" y1="88.70" x2="60.70" y2="88.70" stroke="#6a6a6a" stroke-width="1.0"/>
<line x1="36.60" y1="87.60" x2="36.60" y2="89.80" stroke="#333" stroke-width="0.9"/>
<line x1="60.70" y1="87.60" x2="60.70" y2="89.80" stroke="#333" stroke-width="0.9"/>
<circle cx="46.20" cy="85.80" r="0.95" fill="#1a1a1a"/>
<circle cx="48.65" cy="85.80" r="0.95" fill="#1a1a1a"/>
<circle cx="51.10" cy="85.80" r="0.95" fill="#1a1a1a"/>
<circle cx="31.65" cy="135.60" r="0.95" fill="#1616b4"/>
<circle cx="33.15" cy="135.60" r="0.95" fill="#1616b4"/>
<circle cx="34.65" cy="135.60" r="0.95" fill="#1616b4"/>
<circle cx="36.15" cy="135.60" r="0.95" fill="#1616b4"/>
<circle cx="37.65" cy="135.60" r="0.95" fill="#1616b4"/>
<circle cx="39.15" cy="135.60" r="0.95" fill="#1616b4"/>
<circle cx="40.65" cy="135.60" r="0.95" fill="#1616b4"/>
<circle cx="42.15" cy="135.60" r="0.95" fill="#1616b4"/>
<circle cx="43.65" cy="135.60" r="0.95" fill="#1616b4"/>
<circle cx="45.15" cy="135.60" r="0.95" fill="#1616b4"/>
<circle cx="60.60" cy="93.40" r="0.95" fill="#be0c22"/>
<circle cx="60.60" cy="110.50" r="0.95" fill="#be0c22"/>
<circle cx="60.60" cy="113.30" r="0.95" fill="#be0c22"/>
<circle cx="60.60" cy="116.00" r="0.95" fill="#be0c22"/>
<circle cx="58.40" cy="120.60" r="0.95" fill="#be0c22"/>
<circle cx="60.90" cy="120.20" r="0.95" fill="#be0c22"/>
<circle cx="63.20" cy="119.60" r="0.95" fill="#be0c22"/>
<circle cx="56.70" cy="126.70" r="0.95" fill="#be0c22"/>
<circle cx="59.30" cy="127.14" r="0.95" fill="#be0c22"/>
<circle cx="61.90" cy="127.14" r="0.95" fill="#be0c22"/>
<circle cx="64.50" cy="126.70" r="0.95" fill="#be0c22"/>
<circle cx="55.10" cy="128.50" r="0.95" fill="#be0c22"/>
<circle cx="57.30" cy="129.01" r="0.95" fill="#be0c22"/>
<circle cx="59.50" cy="129.27" r="0.95" fill="#be0c22"/>
<circle cx="61.70" cy="129.27" r="0.95" fill="#be0c22"/>
<circle cx="63.90" cy="129.01" r="0.95" fill="#be0c22"/>
<circle cx="66.10" cy="128.50" r="0.95" fill="#be0c22"/>
<circle cx="54.30" cy="129.10" r="0.95" fill="#be0c22"/>
<circle cx="56.10" cy="130.32" r="0.95" fill="#be0c22"/>
<circle cx="57.90" cy="131.14" r="0.95" fill="#be0c22"/>
<circle cx="59.70" cy="131.55" r="0.95" fill="#be0c22"/>
<circle cx="61.50" cy="131.55" r="0.95" fill="#be0c22"/>
<circle cx="63.30" cy="131.14" r="0.95" fill="#be0c22"/>
<circle cx="65.10" cy="130.32" r="0.95" fill="#be0c22"/>
<circle cx="66.90" cy="129.10" r="0.95" fill="#be0c22"/>
<circle cx="54.30" cy="131.10" r="0.95" fill="#be0c22"/>
<circle cx="56.10" cy="132.57" r="0.95" fill="#be0c22"/>
<circle cx="57.90" cy="133.55" r="0.95" fill="#be0c22"/>
<circle cx="59.70" cy="134.04" r="0.95" fill="#be0c22"/>
<circle cx="61.50" cy="134.04" r="0.95" fill="#be0c22"/>
<circle cx="63.30" cy="133.55" r="0.95" fill="#be0c22"/>
<circle cx="65.10" cy="132.57" r="0.95" fill="#be0c22"/>
<circle cx="66.90" cy="131.10" r="0.95" fill="#be0c22"/>
<circle cx="57.20" cy="134.90" r="0.95" fill="#be0c22"/>
<circle cx="58.90" cy="135.65" r="0.95" fill="#be0c22"/>
<circle cx="60.60" cy="135.90" r="0.95" fill="#be0c22"/>
<circle cx="62.30" cy="135.65" r="0.95" fill="#be0c22"/>
<circle cx="64.00" cy="134.90" r="0.95" fill="#be0c22"/>
<line x1="38.40" y1="135.60" x2="38.40" y2="135.60" stroke="#3a3a3a" stroke-width="0.8"/>
<line x1="31.40" y1="135.60" x2="45.40" y2="135.60" stroke="#333" stroke-width="0.9"/>
<line x1="60.60" y1="125.80" x2="60.60" y2="134.50" stroke="#3a3a3a" stroke-width="0.8"/>
<line x1="55.35" y1="128.70" x2="65.85" y2="128.70" stroke="#333" stroke-width="0.9"/>
<line x1="57.35" y1="125.80" x2="63.85" y2="125.80" stroke="#333" stroke-width="0.9"/>
<line x1="57.60" y1="134.50" x2="63.60" y2="134.50" stroke="#333" stroke-width="0.9"/>
<text x="94.80" y="87.30" font-size="5.0" text-anchor="start" fill="#1a1a1a" font-weight="bold" stroke="#1a1a1a" stroke-width="0.3">E</text>
<line x1="112.40" y1="87.00" x2="112.40" y2="139.20" stroke="#1a1a1a" stroke-width="0.9"/>
<line x1="112.40" y1="139.20" x2="163.30" y2="139.20" stroke="#1a1a1a" stroke-width="0.9"/>
<line x1="126.90" y1="139.20" x2="126.90" y2="140.50" stroke="#1a1a1a" stroke-width="0.7"/>
<line x1="149.10" y1="139.20" x2="149.10" y2="140.50" stroke="#1a1a1a" stroke-width="0.7"/>
<text x="126.90" y="145.30" font-size="4.4" text-anchor="middle" fill="#1a1a1a" font-weight="bold" stroke="#1a1a1a" stroke-width="0.3" textLength="18.2" lengthAdjust="spacingAndGlyphs">COVID-19</text>
<text x="149.10" y="145.30" font-size="4.4" text-anchor="middle" fill="#1a1a1a" font-weight="bold" stroke="#1a1a1a" stroke-width="0.3" textLength="12.4" lengthAdjust="spacingAndGlyphs">CAR-T</text>
<line x1="110.30" y1="87.70" x2="112.40" y2="87.70" stroke="#1a1a1a" stroke-width="0.7"/>
<text x="109.80" y="89.05" font-size="3.6" text-anchor="end" fill="#1a1a1a" font-weight="bold" stroke="#1a1a1a" stroke-width="0.15">15000</text>
<line x1="110.30" y1="94.00" x2="112.40" y2="94.00" stroke="#1a1a1a" stroke-width="0.7"/>
<text x="109.80" y="95.35" font-size="3.6" text-anchor="end" fill="#1a1a1a" font-weight="bold" stroke="#1a1a1a" stroke-width="0.15">10000</text>
<line x1="110.30" y1="99.30" x2="112.40" y2="99.30" stroke="#1a1a1a" stroke-width="0.7"/>
<text x="109.80" y="100.65" font-size="3.6" text-anchor="end" fill="#1a1a1a" font-weight="bold" stroke="#1a1a1a" stroke-width="0.15">5000</text>
<line x1="110.30" y1="107.00" x2="112.40" y2="107.00" stroke="#1a1a1a" stroke-width="0.7"/>
<text x="109.80" y="108.35" font-size="3.6" text-anchor="end" fill="#1a1a1a" font-weight="bold" stroke="#1a1a1a" stroke-width="0.15">150</text>
<line x1="110.30" y1="113.80" x2="112.40" y2="113.80" stroke="#1a1a1a" stroke-width="0.7"/>
<text x="109.80" y="115.15" font-size="3.6" text-anchor="end" fill="#1a1a1a" font-weight="bold" stroke="#1a1a1a" stroke-width="0.15">100</text>
<line x1="110.30" y1="121.50" x2="112.40" y2="121.50" stroke="#1a1a1a" stroke-width="0.7"/>
<text x="109.80" y="122.85" font-size="3.6" text-anchor="end" fill="#1a1a1a" font-weight="bold" stroke="#1a1a1a" stroke-width="0.15">50</text>
<line x1="110.30" y1="131.50" x2="112.40" y2="131.50" stroke="#1a1a1a" stroke-width="0.7"/>
<text x="109.80" y="132.85" font-size="3.6" text-anchor="end" fill="#1a1a1a" font-weight="bold" stroke="#1a1a1a" stroke-width="0.15">2</text>
<line x1="110.30" y1="133.80" x2="112.40" y2="133.80" stroke="#1a1a1a" stroke-width="0.7"/>
<text x="109.80" y="135.15" font-size="3.6" text-anchor="end" fill="#1a1a1a" font-weight="bold" stroke="#1a1a1a" stroke-width="0.15">1</text>
<line x1="110.30" y1="136.10" x2="112.40" y2="136.10" stroke="#1a1a1a" stroke-width="0.7"/>
<text x="109.80" y="137.45" font-size="3.6" text-anchor="end" fill="#1a1a1a" font-weight="bold" stroke="#1a1a1a" stroke-width="0.15">0</text>
<rect x="111.60000000000001" y="105.3" width="1.6" height="2.0" fill="#fff"/>
<line x1="111.20" y1="103.90" x2="113.60" y2="105.70" stroke="#1a1a1a" stroke-width="0.6"/>
<line x1="111.20" y1="106.90" x2="113.60" y2="108.70" stroke="#1a1a1a" stroke-width="0.6"/>
<rect x="111.60000000000001" y="127.80000000000001" width="1.6" height="2.0" fill="#fff"/>
<line x1="111.20" y1="126.40" x2="113.60" y2="128.20" stroke="#1a1a1a" stroke-width="0.6"/>
<line x1="111.20" y1="129.40" x2="113.60" y2="131.20" stroke="#1a1a1a" stroke-width="0.6"/>
<text x="96.20" y="112.50" font-size="4.1" text-anchor="middle" fill="#1a1a1a" font-weight="bold" stroke="#1a1a1a" stroke-width="0.2" transform="rotate(-90 96.2 112.5)" textLength="26.9" lengthAdjust="spacingAndGlyphs">TNF-α (pg/ml)</text>
<line x1="123.00" y1="87.70" x2="149.50" y2="87.70" stroke="#6a6a6a" stroke-width="1.0"/>
<line x1="123.00" y1="86.60" x2="123.00" y2="88.80" stroke="#333" stroke-width="0.9"/>
<line x1="149.50" y1="86.60" x2="149.50" y2="88.80" stroke="#333" stroke-width="0.9"/>
<circle cx="133.80" cy="84.80" r="0.95" fill="#1a1a1a"/>
<circle cx="136.25" cy="84.80" r="0.95" fill="#1a1a1a"/>
<circle cx="138.70" cy="84.80" r="0.95" fill="#1a1a1a"/>
<circle cx="123.90" cy="105.80" r="0.95" fill="#1616b4"/>
<circle cx="126.90" cy="105.80" r="0.95" fill="#1616b4"/>
<circle cx="129.90" cy="105.80" r="0.95" fill="#1616b4"/>
<circle cx="125.50" cy="111.90" r="0.95" fill="#1616b4"/>
<circle cx="127.50" cy="112.80" r="0.95" fill="#1616b4"/>
<circle cx="126.50" cy="114.50" r="0.95" fill="#1616b4"/>
<circle cx="124.50" cy="115.70" r="0.95" fill="#1616b4"/>
<circle cx="120.90" cy="117.40" r="0.95" fill="#1616b4"/>
<circle cx="123.30" cy="117.59" r="0.95" fill="#1616b4"/>
<circle cx="125.70" cy="117.69" r="0.95" fill="#1616b4"/>
<circle cx="128.10" cy="117.69" r="0.95" fill="#1616b4"/>
<circle cx="130.50" cy="117.59" r="0.95" fill="#1616b4"/>
<circle cx="132.90" cy="117.40" r="0.95" fill="#1616b4"/>
<circle cx="122.10" cy="119.60" r="0.95" fill="#1616b4"/>
<circle cx="125.30" cy="119.60" r="0.95" fill="#1616b4"/>
<circle cx="128.50" cy="119.60" r="0.95" fill="#1616b4"/>
<circle cx="131.70" cy="119.60" r="0.95" fill="#1616b4"/>
<circle cx="121.70" cy="120.90" r="0.95" fill="#1616b4"/>
<circle cx="124.30" cy="121.28" r="0.95" fill="#1616b4"/>
<circle cx="126.90" cy="121.40" r="0.95" fill="#1616b4"/>
<circle cx="129.50" cy="121.28" r="0.95" fill="#1616b4"/>
<circle cx="132.10" cy="120.90" r="0.95" fill="#1616b4"/>
<circle cx="120.90" cy="122.00" r="0.95" fill="#1616b4"/>
<circle cx="122.90" cy="122.83" r="0.95" fill="#1616b4"/>
<circle cx="124.90" cy="123.33" r="0.95" fill="#1616b4"/>
<circle cx="126.90" cy="123.50" r="0.95" fill="#1616b4"/>
<circle cx="128.90" cy="123.33" r="0.95" fill="#1616b4"/>
<circle cx="130.90" cy="122.83" r="0.95" fill="#1616b4"/>
<circle cx="132.90" cy="122.00" r="0.95" fill="#1616b4"/>
<circle cx="121.50" cy="124.00" r="0.95" fill="#1616b4"/>
<circle cx="123.30" cy="124.67" r="0.95" fill="#1616b4"/>
<circle cx="125.10" cy="125.07" r="0.95" fill="#1616b4"/>
<circle cx="126.90" cy="125.20" r="0.95" fill="#1616b4"/>
<circle cx="128.70" cy="125.07" r="0.95" fill="#1616b4"/>
<circle cx="130.50" cy="124.67" r="0.95" fill="#1616b4"/>
<circle cx="132.30" cy="124.00" r="0.95" fill="#1616b4"/>
<circle cx="149.10" cy="89.40" r="0.95" fill="#be0c22"/>
<circle cx="149.10" cy="105.80" r="0.95" fill="#be0c22"/>
<circle cx="147.85" cy="117.70" r="0.95" fill="#be0c22"/>
<circle cx="150.35" cy="117.70" r="0.95" fill="#be0c22"/>
<circle cx="149.10" cy="123.20" r="0.95" fill="#be0c22"/>
<circle cx="143.10" cy="124.40" r="0.95" fill="#be0c22"/>
<circle cx="145.10" cy="125.07" r="0.95" fill="#be0c22"/>
<circle cx="147.10" cy="125.47" r="0.95" fill="#be0c22"/>
<circle cx="149.10" cy="125.60" r="0.95" fill="#be0c22"/>
<circle cx="151.10" cy="125.47" r="0.95" fill="#be0c22"/>
<circle cx="153.10" cy="125.07" r="0.95" fill="#be0c22"/>
<circle cx="155.10" cy="124.40" r="0.95" fill="#be0c22"/>
<circle cx="143.85" cy="128.20" r="0.95" fill="#be0c22"/>
<circle cx="145.95" cy="128.46" r="0.95" fill="#be0c22"/>
<circle cx="148.05" cy="128.58" r="0.95" fill="#be0c22"/>
<circle cx="150.15" cy="128.58" r="0.95" fill="#be0c22"/>
<circle cx="152.25" cy="128.46" r="0.95" fill="#be0c22"/>
<circle cx="154.35" cy="128.20" r="0.95" fill="#be0c22"/>
<circle cx="143.60" cy="130.30" r="0.95" fill="#be0c22"/>
<circle cx="145.80" cy="130.56" r="0.95" fill="#be0c22"/>
<circle cx="148.00" cy="130.68" r="0.95" fill="#be0c22"/>
<circle cx="150.20" cy="130.68" r="0.95" fill="#be0c22"/>
<circle cx="152.40" cy="130.56" r="0.95" fill="#be0c22"/>
<circle cx="154.60" cy="130.30" r="0.95" fill="#be0c22"/>
<circle cx="144.10" cy="132.60" r="0.95" fill="#be0c22"/>
<circle cx="146.10" cy="132.60" r="0.95" fill="#be0c22"/>
<circle cx="148.10" cy="132.60" r="0.95" fill="#be0c22"/>
<circle cx="150.10" cy="132.60" r="0.95" fill="#be0c22"/>
<circle cx="152.10" cy="132.60" r="0.95" fill="#be0c22"/>
<circle cx="154.10" cy="132.60" r="0.95" fill="#be0c22"/>
<circle cx="144.10" cy="134.10" r="0.95" fill="#be0c22"/>
<circle cx="146.10" cy="134.42" r="0.95" fill="#be0c22"/>
<circle cx="148.10" cy="134.58" r="0.95" fill="#be0c22"/>
<circle cx="150.10" cy="134.58" r="0.95" fill="#be0c22"/>
<circle cx="152.10" cy="134.42" r="0.95" fill="#be0c22"/>
<circle cx="154.10" cy="134.10" r="0.95" fill="#be0c22"/>
<circle cx="147.10" cy="136.00" r="0.95" fill="#be0c22"/>
<circle cx="149.10" cy="136.00" r="0.95" fill="#be0c22"/>
<circle cx="151.10" cy="136.00" r="0.95" fill="#be0c22"/>
<line x1="126.90" y1="117.70" x2="126.90" y2="126.20" stroke="#3a3a3a" stroke-width="0.8"/>
<line x1="120.90" y1="124.20" x2="132.90" y2="124.20" stroke="#333" stroke-width="0.9"/>
<line x1="122.40" y1="117.70" x2="131.40" y2="117.70" stroke="#333" stroke-width="0.9"/>
<line x1="126.90" y1="126.20" x2="126.90" y2="126.20" stroke="#333" stroke-width="0.9"/>
<line x1="149.10" y1="126.00" x2="149.10" y2="132.60" stroke="#3a3a3a" stroke-width="0.8"/>
<line x1="142.60" y1="129.00" x2="155.60" y2="129.00" stroke="#333" stroke-width="0.9"/>
<line x1="142.60" y1="126.00" x2="155.60" y2="126.00" stroke="#333" stroke-width="0.9"/>
<line x1="143.10" y1="132.60" x2="155.10" y2="132.60" stroke="#333" stroke-width="0.9"/>
<text x="174.80" y="87.30" font-size="5.0" text-anchor="start" fill="#1a1a1a" font-weight="bold" stroke="#1a1a1a" stroke-width="0.3">F</text>
<line x1="200.50" y1="84.50" x2="200.50" y2="138.10" stroke="#1a1a1a" stroke-width="0.9"/>
<line x1="200.50" y1="138.10" x2="252.30" y2="138.10" stroke="#1a1a1a" stroke-width="0.9"/>
<line x1="215.70" y1="138.10" x2="215.70" y2="139.40" stroke="#1a1a1a" stroke-width="0.7"/>
<line x1="237.90" y1="138.10" x2="237.90" y2="139.40" stroke="#1a1a1a" stroke-width="0.7"/>
<text x="215.70" y="144.20" font-size="4.4" text-anchor="middle" fill="#1a1a1a" font-weight="bold" stroke="#1a1a1a" stroke-width="0.3" textLength="18.2" lengthAdjust="spacingAndGlyphs">COVID-19</text>
<text x="237.90" y="144.20" font-size="4.4" text-anchor="middle" fill="#1a1a1a" font-weight="bold" stroke="#1a1a1a" stroke-width="0.3" textLength="12.4" lengthAdjust="spacingAndGlyphs">CAR-T</text>
<line x1="198.40" y1="84.80" x2="200.50" y2="84.80" stroke="#1a1a1a" stroke-width="0.7"/>
<text x="197.90" y="86.15" font-size="3.9" text-anchor="end" fill="#1a1a1a" font-weight="bold" stroke="#1a1a1a" stroke-width="0.15">30</text>
<line x1="198.40" y1="100.50" x2="200.50" y2="100.50" stroke="#1a1a1a" stroke-width="0.7"/>
<text x="197.90" y="101.85" font-size="3.9" text-anchor="end" fill="#1a1a1a" font-weight="bold" stroke="#1a1a1a" stroke-width="0.15">20</text>
<line x1="198.40" y1="115.70" x2="200.50" y2="115.70" stroke="#1a1a1a" stroke-width="0.7"/>
<text x="197.90" y="117.05" font-size="3.9" text-anchor="end" fill="#1a1a1a" font-weight="bold" stroke="#1a1a1a" stroke-width="0.15">10</text>
<line x1="198.40" y1="130.50" x2="200.50" y2="130.50" stroke="#1a1a1a" stroke-width="0.7"/>
<text x="197.90" y="131.85" font-size="3.9" text-anchor="end" fill="#1a1a1a" font-weight="bold" stroke="#1a1a1a" stroke-width="0.15">0</text>
<text x="190.00" y="111.70" font-size="4.1" text-anchor="middle" fill="#1a1a1a" font-weight="bold" stroke="#1a1a1a" stroke-width="0.2" transform="rotate(-90 190.0 111.7)" textLength="21.5" lengthAdjust="spacingAndGlyphs">PCT (ng/mL)</text>
<line x1="215.20" y1="85.30" x2="235.70" y2="85.30" stroke="#6a6a6a" stroke-width="1.0"/>
<line x1="215.20" y1="84.20" x2="215.20" y2="86.40" stroke="#333" stroke-width="0.9"/>
<line x1="235.70" y1="84.20" x2="235.70" y2="86.40" stroke="#333" stroke-width="0.9"/>
<circle cx="224.22" cy="82.40" r="0.95" fill="#1a1a1a"/>
<circle cx="226.67" cy="82.40" r="0.95" fill="#1a1a1a"/>
<circle cx="215.70" cy="93.00" r="0.95" fill="#1616b4"/>
<circle cx="215.70" cy="102.70" r="0.95" fill="#1616b4"/>
<circle cx="215.70" cy="110.10" r="0.95" fill="#1616b4"/>
<circle cx="215.70" cy="116.10" r="0.95" fill="#1616b4"/>
<circle cx="215.70" cy="119.10" r="0.95" fill="#1616b4"/>
<circle cx="214.20" cy="121.50" r="0.95" fill="#1616b4"/>
<circle cx="217.20" cy="121.50" r="0.95" fill="#1616b4"/>
<circle cx="213.10" cy="123.60" r="0.95" fill="#1616b4"/>
<circle cx="215.70" cy="123.60" r="0.95" fill="#1616b4"/>
<circle cx="218.30" cy="123.60" r="0.95" fill="#1616b4"/>
<circle cx="213.40" cy="126.80" r="0.95" fill="#1616b4"/>
<circle cx="215.70" cy="126.80" r="0.95" fill="#1616b4"/>
<circle cx="218.00" cy="126.80" r="0.95" fill="#1616b4"/>
<circle cx="209.70" cy="128.30" r="0.95" fill="#1616b4"/>
<circle cx="212.10" cy="128.49" r="0.95" fill="#1616b4"/>
<circle cx="214.50" cy="128.59" r="0.95" fill="#1616b4"/>
<circle cx="216.90" cy="128.59" r="0.95" fill="#1616b4"/>
<circle cx="219.30" cy="128.49" r="0.95" fill="#1616b4"/>
<circle cx="221.70" cy="128.30" r="0.95" fill="#1616b4"/>
<circle cx="208.50" cy="129.70" r="0.95" fill="#1616b4"/>
<circle cx="210.10" cy="129.70" r="0.95" fill="#1616b4"/>
<circle cx="211.70" cy="129.70" r="0.95" fill="#1616b4"/>
<circle cx="213.30" cy="129.70" r="0.95" fill="#1616b4"/>
<circle cx="214.90" cy="129.70" r="0.95" fill="#1616b4"/>
<circle cx="216.50" cy="129.70" r="0.95" fill="#1616b4"/>
<circle cx="218.10" cy="129.70" r="0.95" fill="#1616b4"/>
<circle cx="219.70" cy="129.70" r="0.95" fill="#1616b4"/>
<circle cx="221.30" cy="129.70" r="0.95" fill="#1616b4"/>
<circle cx="222.90" cy="129.70" r="0.95" fill="#1616b4"/>
<circle cx="209.75" cy="130.30" r="0.95" fill="#1616b4"/>
<circle cx="211.45" cy="130.30" r="0.95" fill="#1616b4"/>
<circle cx="213.15" cy="130.30" r="0.95" fill="#1616b4"/>
<circle cx="214.85" cy="130.30" r="0.95" fill="#1616b4"/>
<circle cx="216.55" cy="130.30" r="0.95" fill="#1616b4"/>
<circle cx="218.25" cy="130.30" r="0.95" fill="#1616b4"/>
<circle cx="219.95" cy="130.30" r="0.95" fill="#1616b4"/>
<circle cx="221.65" cy="130.30" r="0.95" fill="#1616b4"/>
<circle cx="237.90" cy="92.40" r="0.95" fill="#be0c22"/>
<circle cx="237.90" cy="115.70" r="0.95" fill="#be0c22"/>
<circle cx="236.40" cy="119.30" r="0.95" fill="#be0c22"/>
<circle cx="239.40" cy="119.30" r="0.95" fill="#be0c22"/>
<circle cx="236.90" cy="121.50" r="0.95" fill="#be0c22"/>
<circle cx="238.90" cy="121.50" r="0.95" fill="#be0c22"/>
<circle cx="235.30" cy="124.20" r="0.95" fill="#be0c22"/>
<circle cx="237.90" cy="124.20" r="0.95" fill="#be0c22"/>
<circle cx="240.50" cy="124.20" r="0.95" fill="#be0c22"/>
<circle cx="233.10" cy="125.50" r="0.95" fill="#be0c22"/>
<circle cx="235.50" cy="125.88" r="0.95" fill="#be0c22"/>
<circle cx="237.90" cy="126.00" r="0.95" fill="#be0c22"/>
<circle cx="240.30" cy="125.88" r="0.95" fill="#be0c22"/>
<circle cx="242.70" cy="125.50" r="0.95" fill="#be0c22"/>
<circle cx="232.40" cy="127.10" r="0.95" fill="#be0c22"/>
<circle cx="234.60" cy="127.42" r="0.95" fill="#be0c22"/>
<circle cx="236.80" cy="127.58" r="0.95" fill="#be0c22"/>
<circle cx="239.00" cy="127.58" r="0.95" fill="#be0c22"/>
<circle cx="241.20" cy="127.42" r="0.95" fill="#be0c22"/>
<circle cx="243.40" cy="127.10" r="0.95" fill="#be0c22"/>
<circle cx="229.90" cy="128.50" r="0.95" fill="#be0c22"/>
<circle cx="231.90" cy="128.72" r="0.95" fill="#be0c22"/>
<circle cx="233.90" cy="128.88" r="0.95" fill="#be0c22"/>
<circle cx="235.90" cy="128.97" r="0.95" fill="#be0c22"/>
<circle cx="237.90" cy="129.00" r="0.95" fill="#be0c22"/>
<circle cx="239.90" cy="128.97" r="0.95" fill="#be0c22"/>
<circle cx="241.90" cy="128.88" r="0.95" fill="#be0c22"/>
<circle cx="243.90" cy="128.72" r="0.95" fill="#be0c22"/>
<circle cx="245.90" cy="128.50" r="0.95" fill="#be0c22"/>
<circle cx="229.35" cy="130.20" r="0.95" fill="#be0c22"/>
<circle cx="231.25" cy="130.20" r="0.95" fill="#be0c22"/>
<circle cx="233.15" cy="130.20" r="0.95" fill="#be0c22"/>
<circle cx="235.05" cy="130.20" r="0.95" fill="#be0c22"/>
<circle cx="236.95" cy="130.20" r="0.95" fill="#be0c22"/>
<circle cx="238.85" cy="130.20" r="0.95" fill="#be0c22"/>
<circle cx="240.75" cy="130.20" r="0.95" fill="#be0c22"/>
<circle cx="242.65" cy="130.20" r="0.95" fill="#be0c22"/>
<circle cx="244.55" cy="130.20" r="0.95" fill="#be0c22"/>
<circle cx="246.45" cy="130.20" r="0.95" fill="#be0c22"/>
<line x1="215.70" y1="129.20" x2="215.70" y2="129.20" stroke="#3a3a3a" stroke-width="0.8"/>
<line x1="209.20" y1="129.20" x2="222.20" y2="129.20" stroke="#333" stroke-width="0.9"/>
<line x1="237.90" y1="126.00" x2="237.90" y2="130.00" stroke="#3a3a3a" stroke-width="0.8"/>
<line x1="230.90" y1="127.60" x2="244.90" y2="127.60" stroke="#333" stroke-width="0.9"/>
<line x1="233.90" y1="126.00" x2="241.90" y2="126.00" stroke="#333" stroke-width="0.9"/>
<line x1="233.90" y1="130.00" x2="241.90" y2="130.00" stroke="#333" stroke-width="0.9"/>
<text x="4.80" y="166.80" font-size="5.0" text-anchor="start" fill="#1a1a1a" font-weight="bold" stroke="#1a1a1a" stroke-width="0.3">G</text>
<line x1="23.50" y1="167.40" x2="23.50" y2="219.50" stroke="#1a1a1a" stroke-width="0.9"/>
<line x1="23.50" y1="219.50" x2="75.30" y2="219.50" stroke="#1a1a1a" stroke-width="0.9"/>
<line x1="38.40" y1="219.50" x2="38.40" y2="220.80" stroke="#1a1a1a" stroke-width="0.7"/>
<line x1="60.60" y1="219.50" x2="60.60" y2="220.80" stroke="#1a1a1a" stroke-width="0.7"/>
<text x="38.40" y="225.60" font-size="4.4" text-anchor="middle" fill="#1a1a1a" font-weight="bold" stroke="#1a1a1a" stroke-width="0.3" textLength="18.2" lengthAdjust="spacingAndGlyphs">COVID-19</text>
<text x="60.60" y="225.60" font-size="4.4" text-anchor="middle" fill="#1a1a1a" font-weight="bold" stroke="#1a1a1a" stroke-width="0.3" textLength="12.4" lengthAdjust="spacingAndGlyphs">CAR-T</text>
<line x1="21.40" y1="176.20" x2="23.50" y2="176.20" stroke="#1a1a1a" stroke-width="0.7"/>
<text x="20.90" y="177.55" font-size="3.9" text-anchor="end" fill="#1a1a1a" font-weight="bold" stroke="#1a1a1a" stroke-width="0.15">400</text>
<line x1="21.40" y1="193.50" x2="23.50" y2="193.50" stroke="#1a1a1a" stroke-width="0.7"/>
<text x="20.90" y="194.85" font-size="3.9" text-anchor="end" fill="#1a1a1a" font-weight="bold" stroke="#1a1a1a" stroke-width="0.15">200</text>
<line x1="21.40" y1="210.90" x2="23.50" y2="210.90" stroke="#1a1a1a" stroke-width="0.7"/>
<text x="20.90" y="212.25" font-size="3.9" text-anchor="end" fill="#1a1a1a" font-weight="bold" stroke="#1a1a1a" stroke-width="0.15">0</text>
<text x="11.30" y="193.00" font-size="4.1" text-anchor="middle" fill="#1a1a1a" font-weight="bold" stroke="#1a1a1a" stroke-width="0.2" transform="rotate(-90 11.3 193.0)" textLength="22.9" lengthAdjust="spacingAndGlyphs">CRP (mg/L)</text>
<line x1="37.00" y1="168.50" x2="61.00" y2="168.50" stroke="#6a6a6a" stroke-width="1.0"/>
<line x1="37.00" y1="167.40" x2="37.00" y2="169.60" stroke="#333" stroke-width="0.9"/>
<line x1="61.00" y1="167.40" x2="61.00" y2="169.60" stroke="#333" stroke-width="0.9"/>
<circle cx="49.00" cy="165.60" r="0.95" fill="#1a1a1a"/>
<circle cx="39.60" cy="184.90" r="0.95" fill="#1616b4"/>
<circle cx="36.90" cy="185.80" r="0.95" fill="#1616b4"/>
<circle cx="38.50" cy="188.50" r="0.95" fill="#1616b4"/>
<circle cx="40.50" cy="190.30" r="0.95" fill="#1616b4"/>
<circle cx="33.60" cy="193.40" r="0.95" fill="#1616b4"/>
<circle cx="36.00" cy="194.15" r="0.95" fill="#1616b4"/>
<circle cx="38.40" cy="194.40" r="0.95" fill="#1616b4"/>
<circle cx="40.80" cy="194.15" r="0.95" fill="#1616b4"/>
<circle cx="43.20" cy="193.40" r="0.95" fill="#1616b4"/>
<circle cx="35.90" cy="198.40" r="0.95" fill="#1616b4"/>
<circle cx="38.40" cy="198.40" r="0.95" fill="#1616b4"/>
<circle cx="40.90" cy="198.40" r="0.95" fill="#1616b4"/>
<circle cx="34.20" cy="202.80" r="0.95" fill="#1616b4"/>
<circle cx="37.00" cy="202.80" r="0.95" fill="#1616b4"/>
<circle cx="39.80" cy="202.80" r="0.95" fill="#1616b4"/>
<circle cx="42.60" cy="202.80" r="0.95" fill="#1616b4"/>
<circle cx="33.20" cy="204.00" r="0.95" fill="#1616b4"/>
<circle cx="35.80" cy="204.38" r="0.95" fill="#1616b4"/>
<circle cx="38.40" cy="204.50" r="0.95" fill="#1616b4"/>
<circle cx="41.00" cy="204.38" r="0.95" fill="#1616b4"/>
<circle cx="43.60" cy="204.00" r="0.95" fill="#1616b4"/>
<circle cx="31.80" cy="204.70" r="0.95" fill="#1616b4"/>
<circle cx="34.00" cy="205.53" r="0.95" fill="#1616b4"/>
<circle cx="36.20" cy="206.03" r="0.95" fill="#1616b4"/>
<circle cx="38.40" cy="206.20" r="0.95" fill="#1616b4"/>
<circle cx="40.60" cy="206.03" r="0.95" fill="#1616b4"/>
<circle cx="42.80" cy="205.53" r="0.95" fill="#1616b4"/>
<circle cx="45.00" cy="204.70" r="0.95" fill="#1616b4"/>
<circle cx="32.10" cy="206.40" r="0.95" fill="#1616b4"/>
<circle cx="34.20" cy="207.23" r="0.95" fill="#1616b4"/>
<circle cx="36.30" cy="207.73" r="0.95" fill="#1616b4"/>
<circle cx="38.40" cy="207.90" r="0.95" fill="#1616b4"/>
<circle cx="40.50" cy="207.73" r="0.95" fill="#1616b4"/>
<circle cx="42.60" cy="207.23" r="0.95" fill="#1616b4"/>
<circle cx="44.70" cy="206.40" r="0.95" fill="#1616b4"/>
<circle cx="34.40" cy="209.40" r="0.95" fill="#1616b4"/>
<circle cx="36.40" cy="209.40" r="0.95" fill="#1616b4"/>
<circle cx="38.40" cy="209.40" r="0.95" fill="#1616b4"/>
<circle cx="40.40" cy="209.40" r="0.95" fill="#1616b4"/>
<circle cx="42.40" cy="209.40" r="0.95" fill="#1616b4"/>
<circle cx="60.60" cy="174.80" r="0.95" fill="#be0c22"/>
<circle cx="60.60" cy="183.70" r="0.95" fill="#be0c22"/>
<circle cx="59.50" cy="187.30" r="0.95" fill="#be0c22"/>
<circle cx="62.00" cy="188.50" r="0.95" fill="#be0c22"/>
<circle cx="59.35" cy="191.20" r="0.95" fill="#be0c22"/>
<circle cx="61.85" cy="191.20" r="0.95" fill="#be0c22"/>
<circle cx="57.10" cy="193.80" r="0.95" fill="#be0c22"/>
<circle cx="60.60" cy="193.80" r="0.95" fill="#be0c22"/>
<circle cx="64.10" cy="193.80" r="0.95" fill="#be0c22"/>
<circle cx="56.40" cy="195.60" r="0.95" fill="#be0c22"/>
<circle cx="59.20" cy="195.60" r="0.95" fill="#be0c22"/>
<circle cx="62.00" cy="195.60" r="0.95" fill="#be0c22"/>
<circle cx="64.80" cy="195.60" r="0.95" fill="#be0c22"/>
<circle cx="56.10" cy="197.40" r="0.95" fill="#be0c22"/>
<circle cx="59.10" cy="197.40" r="0.95" fill="#be0c22"/>
<circle cx="62.10" cy="197.40" r="0.95" fill="#be0c22"/>
<circle cx="65.10" cy="197.40" r="0.95" fill="#be0c22"/>
<circle cx="54.30" cy="199.20" r="0.95" fill="#be0c22"/>
<circle cx="56.40" cy="199.20" r="0.95" fill="#be0c22"/>
<circle cx="58.50" cy="199.20" r="0.95" fill="#be0c22"/>
<circle cx="60.60" cy="199.20" r="0.95" fill="#be0c22"/>
<circle cx="62.70" cy="199.20" r="0.95" fill="#be0c22"/>
<circle cx="64.80" cy="199.20" r="0.95" fill="#be0c22"/>
<circle cx="66.90" cy="199.20" r="0.95" fill="#be0c22"/>
<circle cx="55.40" cy="201.00" r="0.95" fill="#be0c22"/>
<circle cx="58.00" cy="201.00" r="0.95" fill="#be0c22"/>
<circle cx="60.60" cy="201.00" r="0.95" fill="#be0c22"/>
<circle cx="63.20" cy="201.00" r="0.95" fill="#be0c22"/>
<circle cx="65.80" cy="201.00" r="0.95" fill="#be0c22"/>
<circle cx="56.70" cy="203.30" r="0.95" fill="#be0c22"/>
<circle cx="59.30" cy="203.30" r="0.95" fill="#be0c22"/>
<circle cx="61.90" cy="203.30" r="0.95" fill="#be0c22"/>
<circle cx="64.50" cy="203.30" r="0.95" fill="#be0c22"/>
<circle cx="57.00" cy="205.40" r="0.95" fill="#be0c22"/>
<circle cx="59.40" cy="205.40" r="0.95" fill="#be0c22"/>
<circle cx="61.80" cy="205.40" r="0.95" fill="#be0c22"/>
<circle cx="64.20" cy="205.40" r="0.95" fill="#be0c22"/>
<circle cx="58.20" cy="207.60" r="0.95" fill="#be0c22"/>
<circle cx="60.60" cy="207.60" r="0.95" fill="#be0c22"/>
<circle cx="63.00" cy="207.60" r="0.95" fill="#be0c22"/>
<circle cx="59.40" cy="209.90" r="0.95" fill="#be0c22"/>
<circle cx="61.80" cy="209.90" r="0.95" fill="#be0c22"/>
<line x1="38.40" y1="194.50" x2="38.40" y2="208.00" stroke="#3a3a3a" stroke-width="0.8"/>
<line x1="30.90" y1="205.80" x2="45.90" y2="205.80" stroke="#333" stroke-width="0.9"/>
<line x1="33.90" y1="194.50" x2="42.90" y2="194.50" stroke="#333" stroke-width="0.9"/>
<line x1="33.90" y1="208.00" x2="42.90" y2="208.00" stroke="#333" stroke-width="0.9"/>
<line x1="60.60" y1="195.60" x2="60.60" y2="203.50" stroke="#3a3a3a" stroke-width="0.8"/>
<line x1="53.60" y1="199.20" x2="67.60" y2="199.20" stroke="#333" stroke-width="0.9"/>
<line x1="55.60" y1="195.60" x2="65.60" y2="195.60" stroke="#333" stroke-width="0.9"/>
<line x1="56.60" y1="203.50" x2="64.60" y2="203.50" stroke="#333" stroke-width="0.9"/>
<text x="93.50" y="164.80" font-size="5.0" text-anchor="start" fill="#1a1a1a" font-weight="bold" stroke="#1a1a1a" stroke-width="0.3">H</text>
<line x1="112.40" y1="167.30" x2="112.40" y2="219.20" stroke="#1a1a1a" stroke-width="0.9"/>
<line x1="112.40" y1="219.20" x2="163.30" y2="219.20" stroke="#1a1a1a" stroke-width="0.9"/>
<line x1="126.60" y1="219.20" x2="126.60" y2="220.50" stroke="#1a1a1a" stroke-width="0.7"/>
<line x1="149.10" y1="219.20" x2="149.10" y2="220.50" stroke="#1a1a1a" stroke-width="0.7"/>
<text x="126.60" y="225.30" font-size="4.4" text-anchor="middle" fill="#1a1a1a" font-weight="bold" stroke="#1a1a1a" stroke-width="0.3" textLength="18.2" lengthAdjust="spacingAndGlyphs">COVID-19</text>
<text x="149.10" y="225.30" font-size="4.4" text-anchor="middle" fill="#1a1a1a" font-weight="bold" stroke="#1a1a1a" stroke-width="0.3" textLength="12.4" lengthAdjust="spacingAndGlyphs">CAR-T</text>
<line x1="110.30" y1="167.70" x2="112.40" y2="167.70" stroke="#1a1a1a" stroke-width="0.7"/>
<text x="109.80" y="169.05" font-size="3.8" text-anchor="end" fill="#1a1a1a" font-weight="bold" stroke="#1a1a1a" stroke-width="0.15">100000</text>
<line x1="110.30" y1="191.00" x2="112.40" y2="191.00" stroke="#1a1a1a" stroke-width="0.7"/>
<text x="109.80" y="192.35" font-size="3.8" text-anchor="end" fill="#1a1a1a" font-weight="bold" stroke="#1a1a1a" stroke-width="0.15">50000</text>
<line x1="110.30" y1="214.50" x2="112.40" y2="214.50" stroke="#1a1a1a" stroke-width="0.7"/>
<text x="109.80" y="215.85" font-size="3.8" text-anchor="end" fill="#1a1a1a" font-weight="bold" stroke="#1a1a1a" stroke-width="0.15">0</text>
<text x="94.00" y="192.30" font-size="4.1" text-anchor="middle" fill="#1a1a1a" font-weight="bold" stroke="#1a1a1a" stroke-width="0.2" transform="rotate(-90 94.0 192.3)" textLength="20.6" lengthAdjust="spacingAndGlyphs">DDI (ng/ml)</text>
<line x1="125.00" y1="169.00" x2="149.20" y2="169.00" stroke="#6a6a6a" stroke-width="1.0"/>
<line x1="125.00" y1="167.90" x2="125.00" y2="170.10" stroke="#333" stroke-width="0.9"/>
<line x1="149.20" y1="167.90" x2="149.20" y2="170.10" stroke="#333" stroke-width="0.9"/>
<circle cx="134.65" cy="166.10" r="0.95" fill="#1a1a1a"/>
<circle cx="137.10" cy="166.10" r="0.95" fill="#1a1a1a"/>
<circle cx="139.55" cy="166.10" r="0.95" fill="#1a1a1a"/>
<circle cx="126.00" cy="189.80" r="0.95" fill="#1616b4"/>
<circle cx="128.40" cy="188.70" r="0.95" fill="#1616b4"/>
<circle cx="126.60" cy="196.70" r="0.95" fill="#1616b4"/>
<circle cx="124.10" cy="200.40" r="0.95" fill="#1616b4"/>
<circle cx="126.60" cy="200.40" r="0.95" fill="#1616b4"/>
<circle cx="129.10" cy="200.40" r="0.95" fill="#1616b4"/>
<circle cx="124.40" cy="205.00" r="0.95" fill="#1616b4"/>
<circle cx="126.60" cy="205.00" r="0.95" fill="#1616b4"/>
<circle cx="128.80" cy="205.00" r="0.95" fill="#1616b4"/>
<circle cx="121.60" cy="207.30" r="0.95" fill="#1616b4"/>
<circle cx="123.60" cy="207.30" r="0.95" fill="#1616b4"/>
<circle cx="125.60" cy="207.30" r="0.95" fill="#1616b4"/>
<circle cx="127.60" cy="207.30" r="0.95" fill="#1616b4"/>
<circle cx="129.60" cy="207.30" r="0.95" fill="#1616b4"/>
<circle cx="131.60" cy="207.30" r="0.95" fill="#1616b4"/>
<circle cx="120.30" cy="208.70" r="0.95" fill="#1616b4"/>
<circle cx="122.10" cy="209.19" r="0.95" fill="#1616b4"/>
<circle cx="123.90" cy="209.52" r="0.95" fill="#1616b4"/>
<circle cx="125.70" cy="209.68" r="0.95" fill="#1616b4"/>
<circle cx="127.50" cy="209.68" r="0.95" fill="#1616b4"/>
<circle cx="129.30" cy="209.52" r="0.95" fill="#1616b4"/>
<circle cx="131.10" cy="209.19" r="0.95" fill="#1616b4"/>
<circle cx="132.90" cy="208.70" r="0.95" fill="#1616b4"/>
<circle cx="119.80" cy="210.70" r="0.95" fill="#1616b4"/>
<circle cx="121.50" cy="211.05" r="0.95" fill="#1616b4"/>
<circle cx="123.20" cy="211.30" r="0.95" fill="#1616b4"/>
<circle cx="124.90" cy="211.45" r="0.95" fill="#1616b4"/>
<circle cx="126.60" cy="211.50" r="0.95" fill="#1616b4"/>
<circle cx="128.30" cy="211.45" r="0.95" fill="#1616b4"/>
<circle cx="130.00" cy="211.30" r="0.95" fill="#1616b4"/>
<circle cx="131.70" cy="211.05" r="0.95" fill="#1616b4"/>
<circle cx="133.40" cy="210.70" r="0.95" fill="#1616b4"/>
<circle cx="122.35" cy="213.10" r="0.95" fill="#1616b4"/>
<circle cx="124.05" cy="213.10" r="0.95" fill="#1616b4"/>
<circle cx="125.75" cy="213.10" r="0.95" fill="#1616b4"/>
<circle cx="127.45" cy="213.10" r="0.95" fill="#1616b4"/>
<circle cx="129.15" cy="213.10" r="0.95" fill="#1616b4"/>
<circle cx="130.85" cy="213.10" r="0.95" fill="#1616b4"/>
<circle cx="143.10" cy="173.10" r="0.95" fill="#be0c22"/>
<circle cx="145.10" cy="173.10" r="0.95" fill="#be0c22"/>
<circle cx="147.10" cy="173.10" r="0.95" fill="#be0c22"/>
<circle cx="149.10" cy="173.10" r="0.95" fill="#be0c22"/>
<circle cx="151.10" cy="173.10" r="0.95" fill="#be0c22"/>
<circle cx="153.10" cy="173.10" r="0.95" fill="#be0c22"/>
<circle cx="155.10" cy="173.10" r="0.95" fill="#be0c22"/>
<circle cx="149.10" cy="174.90" r="0.95" fill="#be0c22"/>
<circle cx="147.60" cy="176.20" r="0.95" fill="#be0c22"/>
<circle cx="150.60" cy="176.20" r="0.95" fill="#be0c22"/>
<circle cx="148.60" cy="189.20" r="0.95" fill="#be0c22"/>
<circle cx="150.30" cy="190.70" r="0.95" fill="#be0c22"/>
<circle cx="147.85" cy="193.90" r="0.95" fill="#be0c22"/>
<circle cx="150.35" cy="193.90" r="0.95" fill="#be0c22"/>
<circle cx="149.10" cy="196.70" r="0.95" fill="#be0c22"/>
<circle cx="147.10" cy="199.70" r="0.95" fill="#be0c22"/>
<circle cx="151.10" cy="199.70" r="0.95" fill="#be0c22"/>
<circle cx="145.60" cy="201.90" r="0.95" fill="#be0c22"/>
<circle cx="149.10" cy="201.90" r="0.95" fill="#be0c22"/>
<circle cx="152.60" cy="201.90" r="0.95" fill="#be0c22"/>
<circle cx="145.30" cy="204.50" r="0.95" fill="#be0c22"/>
<circle cx="149.10" cy="204.50" r="0.95" fill="#be0c22"/>
<circle cx="152.90" cy="204.50" r="0.95" fill="#be0c22"/>
<circle cx="146.60" cy="206.60" r="0.95" fill="#be0c22"/>
<circle cx="151.60" cy="206.60" r="0.95" fill="#be0c22"/>
<circle cx="145.60" cy="208.80" r="0.95" fill="#be0c22"/>
<circle cx="149.10" cy="208.80" r="0.95" fill="#be0c22"/>
<circle cx="152.60" cy="208.80" r="0.95" fill="#be0c22"/>
<circle cx="146.10" cy="211.50" r="0.95" fill="#be0c22"/>
<circle cx="149.10" cy="211.50" r="0.95" fill="#be0c22"/>
<circle cx="152.10" cy="211.50" r="0.95" fill="#be0c22"/>
<line x1="126.60" y1="205.00" x2="126.60" y2="212.50" stroke="#3a3a3a" stroke-width="0.8"/>
<line x1="120.60" y1="211.20" x2="132.60" y2="211.20" stroke="#333" stroke-width="0.9"/>
<line x1="123.60" y1="205.00" x2="129.60" y2="205.00" stroke="#333" stroke-width="0.9"/>
<line x1="123.60" y1="212.50" x2="129.60" y2="212.50" stroke="#333" stroke-width="0.9"/>
<line x1="149.10" y1="173.10" x2="149.10" y2="205.00" stroke="#3a3a3a" stroke-width="0.8"/>
<line x1="141.10" y1="173.10" x2="157.10" y2="173.10" stroke="#333" stroke-width="0.9"/>
<line x1="141.60" y1="183.10" x2="156.60" y2="183.10" stroke="#333" stroke-width="0.9"/>
<line x1="147.10" y1="205.00" x2="151.10" y2="205.00" stroke="#333" stroke-width="0.9"/>
<text x="179.00" y="164.80" font-size="5.0" text-anchor="start" fill="#1a1a1a" font-weight="bold" stroke="#1a1a1a" stroke-width="0.3">I</text>
<line x1="203.20" y1="167.30" x2="203.20" y2="219.20" stroke="#1a1a1a" stroke-width="0.9"/>
<line x1="203.20" y1="219.20" x2="256.00" y2="219.20" stroke="#1a1a1a" stroke-width="0.9"/>
<line x1="218.00" y1="219.20" x2="218.00" y2="220.50" stroke="#1a1a1a" stroke-width="0.7"/>
<line x1="240.20" y1="219.20" x2="240.20" y2="220.50" stroke="#1a1a1a" stroke-width="0.7"/>
<text x="218.00" y="225.30" font-size="4.4" text-anchor="middle" fill="#1a1a1a" font-weight="bold" stroke="#1a1a1a" stroke-width="0.3" textLength="18.2" lengthAdjust="spacingAndGlyphs">COVID-19</text>
<text x="240.20" y="225.30" font-size="4.4" text-anchor="middle" fill="#1a1a1a" font-weight="bold" stroke="#1a1a1a" stroke-width="0.3" textLength="12.4" lengthAdjust="spacingAndGlyphs">CAR-T</text>
<line x1="201.10" y1="176.20" x2="203.20" y2="176.20" stroke="#1a1a1a" stroke-width="0.7"/>
<text x="200.60" y="177.55" font-size="3.9" text-anchor="end" fill="#1a1a1a" font-weight="bold" stroke="#1a1a1a" stroke-width="0.15">40000</text>
<line x1="201.10" y1="193.20" x2="203.20" y2="193.20" stroke="#1a1a1a" stroke-width="0.7"/>
<text x="200.60" y="194.55" font-size="3.9" text-anchor="end" fill="#1a1a1a" font-weight="bold" stroke="#1a1a1a" stroke-width="0.15">20000</text>
<line x1="201.10" y1="210.50" x2="203.20" y2="210.50" stroke="#1a1a1a" stroke-width="0.7"/>
<text x="200.60" y="211.85" font-size="3.9" text-anchor="end" fill="#1a1a1a" font-weight="bold" stroke="#1a1a1a" stroke-width="0.15">0</text>
<text x="183.70" y="193.00" font-size="4.1" text-anchor="middle" fill="#1a1a1a" font-weight="bold" stroke="#1a1a1a" stroke-width="0.2" transform="rotate(-90 183.7 193.0)" textLength="29.1" lengthAdjust="spacingAndGlyphs">Ferritin (ng/ml)</text>
<line x1="218.40" y1="169.70" x2="240.70" y2="169.70" stroke="#6a6a6a" stroke-width="1.0"/>
<line x1="218.40" y1="168.60" x2="218.40" y2="170.80" stroke="#333" stroke-width="0.9"/>
<line x1="240.70" y1="168.60" x2="240.70" y2="170.80" stroke="#333" stroke-width="0.9"/>
<circle cx="227.10" cy="166.80" r="0.95" fill="#1a1a1a"/>
<circle cx="229.55" cy="166.80" r="0.95" fill="#1a1a1a"/>
<circle cx="232.00" cy="166.80" r="0.95" fill="#1a1a1a"/>
<circle cx="214.60" cy="207.90" r="0.95" fill="#1616b4"/>
<circle cx="218.00" cy="207.90" r="0.95" fill="#1616b4"/>
<circle cx="221.40" cy="207.90" r="0.95" fill="#1616b4"/>
<circle cx="211.70" cy="209.20" r="0.95" fill="#1616b4"/>
<circle cx="213.10" cy="209.20" r="0.95" fill="#1616b4"/>
<circle cx="214.50" cy="209.20" r="0.95" fill="#1616b4"/>
<circle cx="215.90" cy="209.20" r="0.95" fill="#1616b4"/>
<circle cx="217.30" cy="209.20" r="0.95" fill="#1616b4"/>
<circle cx="218.70" cy="209.20" r="0.95" fill="#1616b4"/>
<circle cx="220.10" cy="209.20" r="0.95" fill="#1616b4"/>
<circle cx="221.50" cy="209.20" r="0.95" fill="#1616b4"/>
<circle cx="222.90" cy="209.20" r="0.95" fill="#1616b4"/>
<circle cx="224.30" cy="209.20" r="0.95" fill="#1616b4"/>
<circle cx="212.75" cy="210.20" r="0.95" fill="#1616b4"/>
<circle cx="214.25" cy="210.20" r="0.95" fill="#1616b4"/>
<circle cx="215.75" cy="210.20" r="0.95" fill="#1616b4"/>
<circle cx="217.25" cy="210.20" r="0.95" fill="#1616b4"/>
<circle cx="218.75" cy="210.20" r="0.95" fill="#1616b4"/>
<circle cx="220.25" cy="210.20" r="0.95" fill="#1616b4"/>
<circle cx="221.75" cy="210.20" r="0.95" fill="#1616b4"/>
<circle cx="223.25" cy="210.20" r="0.95" fill="#1616b4"/>
<circle cx="233.40" cy="175.70" r="0.95" fill="#be0c22"/>
<circle cx="235.10" cy="175.70" r="0.95" fill="#be0c22"/>
<circle cx="236.80" cy="175.70" r="0.95" fill="#be0c22"/>
<circle cx="238.50" cy="175.70" r="0.95" fill="#be0c22"/>
<circle cx="240.20" cy="175.70" r="0.95" fill="#be0c22"/>
<circle cx="241.90" cy="175.70" r="0.95" fill="#be0c22"/>
<circle cx="243.60" cy="175.70" r="0.95" fill="#be0c22"/>
<circle cx="245.30" cy="175.70" r="0.95" fill="#be0c22"/>
<circle cx="247.00" cy="175.70" r="0.95" fill="#be0c22"/>
<circle cx="240.20" cy="180.00" r="0.95" fill="#be0c22"/>
<circle cx="238.70" cy="189.20" r="0.95" fill="#be0c22"/>
<circle cx="242.00" cy="190.70" r="0.95" fill="#be0c22"/>
<circle cx="238.70" cy="196.10" r="0.95" fill="#be0c22"/>
<circle cx="241.70" cy="196.70" r="0.95" fill="#be0c22"/>
<circle cx="240.20" cy="202.20" r="0.95" fill="#be0c22"/>
<circle cx="233.20" cy="204.00" r="0.95" fill="#be0c22"/>
<circle cx="235.20" cy="204.49" r="0.95" fill="#be0c22"/>
<circle cx="237.20" cy="204.82" r="0.95" fill="#be0c22"/>
<circle cx="239.20" cy="204.98" r="0.95" fill="#be0c22"/>
<circle cx="241.20" cy="204.98" r="0.95" fill="#be0c22"/>
<circle cx="243.20" cy="204.82" r="0.95" fill="#be0c22"/>
<circle cx="245.20" cy="204.49" r="0.95" fill="#be0c22"/>
<circle cx="247.20" cy="204.00" r="0.95" fill="#be0c22"/>
<circle cx="234.70" cy="206.80" r="0.95" fill="#be0c22"/>
<circle cx="236.90" cy="207.12" r="0.95" fill="#be0c22"/>
<circle cx="239.10" cy="207.28" r="0.95" fill="#be0c22"/>
<circle cx="241.30" cy="207.28" r="0.95" fill="#be0c22"/>
<circle cx="243.50" cy="207.12" r="0.95" fill="#be0c22"/>
<circle cx="245.70" cy="206.80" r="0.95" fill="#be0c22"/>
<circle cx="235.80" cy="209.10" r="0.95" fill="#be0c22"/>
<circle cx="238.00" cy="209.10" r="0.95" fill="#be0c22"/>
<circle cx="240.20" cy="209.10" r="0.95" fill="#be0c22"/>
<circle cx="242.40" cy="209.10" r="0.95" fill="#be0c22"/>
<circle cx="244.60" cy="209.10" r="0.95" fill="#be0c22"/>
<circle cx="239.20" cy="210.20" r="0.95" fill="#be0c22"/>
<circle cx="241.20" cy="210.20" r="0.95" fill="#be0c22"/>
<line x1="218.00" y1="209.40" x2="218.00" y2="209.40" stroke="#3a3a3a" stroke-width="0.8"/>
<line x1="211.50" y1="209.40" x2="224.50" y2="209.40" stroke="#333" stroke-width="0.9"/>
<line x1="240.20" y1="175.70" x2="240.20" y2="205.00" stroke="#3a3a3a" stroke-width="0.8"/>
<line x1="232.70" y1="175.70" x2="247.70" y2="175.70" stroke="#333" stroke-width="0.9"/>
<line x1="232.70" y1="184.60" x2="247.70" y2="184.60" stroke="#333" stroke-width="0.9"/>
<line x1="234.20" y1="205.00" x2="246.20" y2="205.00" stroke="#333" stroke-width="0.9"/>
<text x="270.00" y="9.70" font-size="5.0" text-anchor="start" fill="#1a1a1a" font-weight="bold" stroke="#1a1a1a" stroke-width="0.3">A</text>
<line x1="287.30" y1="13.00" x2="287.30" y2="80.20" stroke="#1a1a1a" stroke-width="1.1"/>
<line x1="287.30" y1="80.20" x2="380.20" y2="80.20" stroke="#1a1a1a" stroke-width="1.1"/>
<line x1="284.90" y1="80.20" x2="287.30" y2="80.20" stroke="#1a1a1a" stroke-width="0.8"/>
<text x="284.40" y="81.80" font-size="4.6" text-anchor="end" fill="#1a1a1a" font-weight="bold" stroke="#1a1a1a" stroke-width="0.25">0.0</text>
<line x1="284.90" y1="66.90" x2="287.30" y2="66.90" stroke="#1a1a1a" stroke-width="0.8"/>
<text x="284.40" y="68.50" font-size="4.6" text-anchor="end" fill="#1a1a1a" font-weight="bold" stroke="#1a1a1a" stroke-width="0.25">0.5</text>
<line x1="284.90" y1="53.60" x2="287.30" y2="53.60" stroke="#1a1a1a" stroke-width="0.8"/>
<text x="284.40" y="55.20" font-size="4.6" text-anchor="end" fill="#1a1a1a" font-weight="bold" stroke="#1a1a1a" stroke-width="0.25">1.0</text>
<line x1="284.90" y1="40.20" x2="287.30" y2="40.20" stroke="#1a1a1a" stroke-width="0.8"/>
<text x="284.40" y="41.80" font-size="4.6" text-anchor="end" fill="#1a1a1a" font-weight="bold" stroke="#1a1a1a" stroke-width="0.25">1.5</text>
<line x1="284.90" y1="27.00" x2="287.30" y2="27.00" stroke="#1a1a1a" stroke-width="0.8"/>
<text x="284.40" y="28.60" font-size="4.6" text-anchor="end" fill="#1a1a1a" font-weight="bold" stroke="#1a1a1a" stroke-width="0.25">2.0</text>
<line x1="284.90" y1="13.40" x2="287.30" y2="13.40" stroke="#1a1a1a" stroke-width="0.8"/>
<text x="284.40" y="15.00" font-size="4.6" text-anchor="end" fill="#1a1a1a" font-weight="bold" stroke="#1a1a1a" stroke-width="0.25">2.5</text>
<line x1="287.30" y1="80.20" x2="287.30" y2="82.40" stroke="#1a1a1a" stroke-width="0.8"/>
<text x="287.30" y="87.60" font-size="4.6" text-anchor="middle" fill="#1a1a1a" font-weight="bold" stroke="#1a1a1a" stroke-width="0.25">2</text>
<line x1="307.90" y1="80.20" x2="307.90" y2="82.40" stroke="#1a1a1a" stroke-width="0.8"/>
<text x="307.90" y="87.60" font-size="4.6" text-anchor="middle" fill="#1a1a1a" font-weight="bold" stroke="#1a1a1a" stroke-width="0.25">4</text>
<line x1="328.50" y1="80.20" x2="328.50" y2="82.40" stroke="#1a1a1a" stroke-width="0.8"/>
<text x="328.50" y="87.60" font-size="4.6" text-anchor="middle" fill="#1a1a1a" font-weight="bold" stroke="#1a1a1a" stroke-width="0.25">6</text>
<line x1="349.10" y1="80.20" x2="349.10" y2="82.40" stroke="#1a1a1a" stroke-width="0.8"/>
<text x="349.10" y="87.60" font-size="4.6" text-anchor="middle" fill="#1a1a1a" font-weight="bold" stroke="#1a1a1a" stroke-width="0.25">8</text>
<line x1="369.70" y1="80.20" x2="369.70" y2="82.40" stroke="#1a1a1a" stroke-width="0.8"/>
<text x="369.70" y="87.60" font-size="4.6" text-anchor="middle" fill="#1a1a1a" font-weight="bold" stroke="#1a1a1a" stroke-width="0.25">10</text>
<text x="334.00" y="97.40" font-size="5.4" text-anchor="middle" fill="#1a1a1a" font-weight="bold" stroke="#1a1a1a" stroke-width="0.05" textLength="31.5" lengthAdjust="spacingAndGlyphs">lg virus load</text>
<text x="273.60" y="46.70" font-size="5.3" text-anchor="middle" fill="#1a1a1a" font-weight="bold" stroke="#1a1a1a" stroke-width="0.1" transform="rotate(-90 273.6 46.7)" textLength="18.0" lengthAdjust="spacingAndGlyphs">lg IL-10</text>
<circle cx="330.60" cy="17.30" r="1.05" fill="#b533e6"/>
<circle cx="343.50" cy="17.30" r="1.05" fill="#b533e6"/>
<circle cx="317.60" cy="43.00" r="1.05" fill="#b533e6"/>
<circle cx="306.40" cy="53.75" r="1.05" fill="#b533e6"/>
<circle cx="304.80" cy="64.70" r="1.05" fill="#b533e6"/>
<circle cx="309.70" cy="72.50" r="1.05" fill="#b533e6"/>
<circle cx="311.30" cy="71.40" r="1.05" fill="#b533e6"/>
<circle cx="313.10" cy="68.60" r="1.05" fill="#b533e6"/>
<circle cx="322.80" cy="55.60" r="1.05" fill="#b533e6"/>
<circle cx="324.20" cy="57.60" r="1.05" fill="#b533e6"/>
<circle cx="325.90" cy="51.70" r="1.05" fill="#b533e6"/>
<circle cx="328.75" cy="69.90" r="1.05" fill="#b533e6"/>
<circle cx="331.40" cy="47.80" r="1.05" fill="#b533e6"/>
<circle cx="333.40" cy="49.40" r="1.05" fill="#b533e6"/>
<circle cx="345.10" cy="36.00" r="1.05" fill="#b533e6"/>
<circle cx="357.30" cy="41.25" r="1.05" fill="#b533e6"/>
<circle cx="364.60" cy="35.30" r="1.05" fill="#b533e6"/>
<circle cx="367.00" cy="38.60" r="1.05" fill="#b533e6"/>
<circle cx="367.90" cy="40.40" r="1.05" fill="#b533e6"/>
<circle cx="344.80" cy="41.80" r="1.05" fill="#b533e6"/>
<circle cx="353.40" cy="45.20" r="1.05" fill="#b533e6"/>
<circle cx="351.40" cy="46.80" r="1.05" fill="#b533e6"/>
<circle cx="345.60" cy="45.70" r="1.05" fill="#b533e6"/>
<circle cx="348.20" cy="48.30" r="1.05" fill="#b533e6"/>
<circle cx="362.60" cy="48.50" r="1.05" fill="#b533e6"/>
<circle cx="340.40" cy="52.40" r="1.05" fill="#b533e6"/>
<circle cx="341.00" cy="54.80" r="1.05" fill="#b533e6"/>
<circle cx="343.20" cy="55.90" r="1.05" fill="#b533e6"/>
<circle cx="348.20" cy="53.75" r="1.05" fill="#b533e6"/>
<circle cx="342.50" cy="57.60" r="1.05" fill="#b533e6"/>
<circle cx="335.20" cy="62.00" r="1.05" fill="#b533e6"/>
<circle cx="345.60" cy="63.40" r="1.05" fill="#b533e6"/>
<circle cx="350.30" cy="60.80" r="1.05" fill="#b533e6"/>
<circle cx="367.20" cy="58.20" r="1.05" fill="#b533e6"/>
<circle cx="369.00" cy="59.90" r="1.05" fill="#b533e6"/>
<circle cx="339.10" cy="71.20" r="1.05" fill="#b533e6"/>
<line x1="304.50" y1="61.20" x2="369.50" y2="43.40" stroke="#3a55d8" stroke-width="1.5"/>
<text x="366.0" y="20.3" font-size="4.6" fill="#1a1a1a" font-weight="bold" stroke="#1a1a1a" stroke-width="0.2">R<tspan font-size="3.0" dy="-1.7">2</tspan><tspan dy="1.7" dx="0.5">=0.105</tspan></text>
<text x="366.00" y="25.60" font-size="4.6" text-anchor="start" fill="#1a1a1a" font-weight="bold" stroke="#1a1a1a" stroke-width="0.2">P&lt;0.001</text>
<text x="390.00" y="9.20" font-size="5.0" text-anchor="start" fill="#1a1a1a" font-weight="bold" stroke="#1a1a1a" stroke-width="0.3">B</text>
<line x1="406.30" y1="14.00" x2="406.30" y2="83.30" stroke="#1a1a1a" stroke-width="1.1"/>
<line x1="406.30" y1="83.30" x2="504.00" y2="83.30" stroke="#1a1a1a" stroke-width="1.1"/>
<line x1="403.90" y1="83.30" x2="406.30" y2="83.30" stroke="#1a1a1a" stroke-width="0.8"/>
<text x="403.40" y="84.90" font-size="4.6" text-anchor="end" fill="#1a1a1a" font-weight="bold" stroke="#1a1a1a" stroke-width="0.25">0.5</text>
<line x1="403.90" y1="66.40" x2="406.30" y2="66.40" stroke="#1a1a1a" stroke-width="0.8"/>
<text x="403.40" y="68.00" font-size="4.6" text-anchor="end" fill="#1a1a1a" font-weight="bold" stroke="#1a1a1a" stroke-width="0.25">1.0</text>
<line x1="403.90" y1="49.00" x2="406.30" y2="49.00" stroke="#1a1a1a" stroke-width="0.8"/>
<text x="403.40" y="50.60" font-size="4.6" text-anchor="end" fill="#1a1a1a" font-weight="bold" stroke="#1a1a1a" stroke-width="0.25">1.5</text>
<line x1="403.90" y1="32.00" x2="406.30" y2="32.00" stroke="#1a1a1a" stroke-width="0.8"/>
<text x="403.40" y="33.60" font-size="4.6" text-anchor="end" fill="#1a1a1a" font-weight="bold" stroke="#1a1a1a" stroke-width="0.25">2.0</text>
<line x1="403.90" y1="14.90" x2="406.30" y2="14.90" stroke="#1a1a1a" stroke-width="0.8"/>
<text x="403.40" y="16.50" font-size="4.6" text-anchor="end" fill="#1a1a1a" font-weight="bold" stroke="#1a1a1a" stroke-width="0.25">2.5</text>
<line x1="418.70" y1="83.30" x2="418.70" y2="85.50" stroke="#1a1a1a" stroke-width="0.8"/>
<text x="418.70" y="90.70" font-size="4.6" text-anchor="middle" fill="#1a1a1a" font-weight="bold" stroke="#1a1a1a" stroke-width="0.25">4</text>
<line x1="444.30" y1="83.30" x2="444.30" y2="85.50" stroke="#1a1a1a" stroke-width="0.8"/>
<text x="444.30" y="90.70" font-size="4.6" text-anchor="middle" fill="#1a1a1a" font-weight="bold" stroke="#1a1a1a" stroke-width="0.25">6</text>
<line x1="469.80" y1="83.30" x2="469.80" y2="85.50" stroke="#1a1a1a" stroke-width="0.8"/>
<text x="469.80" y="90.70" font-size="4.6" text-anchor="middle" fill="#1a1a1a" font-weight="bold" stroke="#1a1a1a" stroke-width="0.25">8</text>
<line x1="495.00" y1="83.30" x2="495.00" y2="85.50" stroke="#1a1a1a" stroke-width="0.8"/>
<text x="495.00" y="90.70" font-size="4.6" text-anchor="middle" fill="#1a1a1a" font-weight="bold" stroke="#1a1a1a" stroke-width="0.25">10</text>
<text x="457.00" y="99.10" font-size="5.4" text-anchor="middle" fill="#1a1a1a" font-weight="bold" stroke="#1a1a1a" stroke-width="0.05" textLength="31.5" lengthAdjust="spacingAndGlyphs">lg virus load</text>
<text x="391.90" y="51.50" font-size="5.0" text-anchor="middle" fill="#1a1a1a" font-weight="bold" stroke="#1a1a1a" stroke-width="0.1" transform="rotate(-90 391.9 51.5)" textLength="17.2" lengthAdjust="spacingAndGlyphs">lg TNF-α</text>
<circle cx="414.80" cy="43.00" r="1.05" fill="#b533e6"/>
<circle cx="440.75" cy="36.50" r="1.05" fill="#b533e6"/>
<circle cx="444.10" cy="32.90" r="1.05" fill="#b533e6"/>
<circle cx="438.50" cy="49.70" r="1.05" fill="#b533e6"/>
<circle cx="430.70" cy="55.25" r="1.05" fill="#b533e6"/>
<circle cx="446.30" cy="54.70" r="1.05" fill="#b533e6"/>
<circle cx="450.25" cy="58.90" r="1.05" fill="#b533e6"/>
<circle cx="422.30" cy="65.30" r="1.05" fill="#b533e6"/>
<circle cx="425.10" cy="70.90" r="1.05" fill="#b533e6"/>
<circle cx="416.20" cy="72.85" r="1.05" fill="#b533e6"/>
<circle cx="420.40" cy="72.00" r="1.05" fill="#b533e6"/>
<circle cx="436.30" cy="72.00" r="1.05" fill="#b533e6"/>
<circle cx="452.50" cy="68.70" r="1.05" fill="#b533e6"/>
<circle cx="464.50" cy="19.80" r="1.05" fill="#b533e6"/>
<circle cx="468.70" cy="23.40" r="1.05" fill="#b533e6"/>
<circle cx="480.20" cy="24.50" r="1.05" fill="#b533e6"/>
<circle cx="462.60" cy="30.10" r="1.05" fill="#b533e6"/>
<circle cx="459.20" cy="33.70" r="1.05" fill="#b533e6"/>
<circle cx="464.00" cy="36.50" r="1.05" fill="#b533e6"/>
<circle cx="465.40" cy="38.50" r="1.05" fill="#b533e6"/>
<circle cx="468.20" cy="37.40" r="1.05" fill="#b533e6"/>
<circle cx="492.50" cy="29.55" r="1.05" fill="#b533e6"/>
<circle cx="492.50" cy="38.50" r="1.05" fill="#b533e6"/>
<circle cx="491.90" cy="42.10" r="1.05" fill="#b533e6"/>
<circle cx="475.10" cy="44.10" r="1.05" fill="#b533e6"/>
<circle cx="464.00" cy="49.10" r="1.05" fill="#b533e6"/>
<circle cx="468.20" cy="51.30" r="1.05" fill="#b533e6"/>
<circle cx="486.30" cy="54.70" r="1.05" fill="#b533e6"/>
<circle cx="490.50" cy="49.10" r="1.05" fill="#b533e6"/>
<circle cx="493.30" cy="51.30" r="1.05" fill="#b533e6"/>
<circle cx="457.00" cy="56.10" r="1.05" fill="#b533e6"/>
<circle cx="460.60" cy="59.70" r="1.05" fill="#b533e6"/>
<circle cx="464.50" cy="58.00" r="1.05" fill="#b533e6"/>
<circle cx="493.30" cy="59.70" r="1.05" fill="#b533e6"/>
<circle cx="462.00" cy="64.50" r="1.05" fill="#b533e6"/>
<circle cx="471.50" cy="72.00" r="1.05" fill="#b533e6"/>
<line x1="414.80" y1="60.80" x2="493.30" y2="39.30" stroke="#3a55d8" stroke-width="1.5"/>
<text x="494.2" y="20.3" font-size="4.6" fill="#1a1a1a" font-weight="bold" stroke="#1a1a1a" stroke-width="0.2">R<tspan font-size="3.0" dy="-1.7">2</tspan><tspan dy="1.7" dx="0.5">=0.040</tspan></text>
<text x="494.20" y="25.60" font-size="4.6" text-anchor="start" fill="#1a1a1a" font-weight="bold" stroke="#1a1a1a" stroke-width="0.2">P=0.005</text>
<text x="273.20" y="129.10" font-size="5.0" text-anchor="start" fill="#1a1a1a" font-weight="bold" stroke="#1a1a1a" stroke-width="0.3">C</text>
<line x1="287.20" y1="133.00" x2="287.20" y2="202.60" stroke="#1a1a1a" stroke-width="1.1"/>
<line x1="287.20" y1="202.60" x2="390.00" y2="202.60" stroke="#1a1a1a" stroke-width="1.1"/>
<line x1="284.80" y1="202.60" x2="287.20" y2="202.60" stroke="#1a1a1a" stroke-width="0.8"/>
<text x="284.30" y="204.20" font-size="4.6" text-anchor="end" fill="#1a1a1a" font-weight="bold" stroke="#1a1a1a" stroke-width="0.25">0</text>
<line x1="284.80" y1="188.70" x2="287.20" y2="188.70" stroke="#1a1a1a" stroke-width="0.8"/>
<text x="284.30" y="190.30" font-size="4.6" text-anchor="end" fill="#1a1a1a" font-weight="bold" stroke="#1a1a1a" stroke-width="0.25">1</text>
<line x1="284.80" y1="174.90" x2="287.20" y2="174.90" stroke="#1a1a1a" stroke-width="0.8"/>
<text x="284.30" y="176.50" font-size="4.6" text-anchor="end" fill="#1a1a1a" font-weight="bold" stroke="#1a1a1a" stroke-width="0.25">2</text>
<line x1="284.80" y1="161.10" x2="287.20" y2="161.10" stroke="#1a1a1a" stroke-width="0.8"/>
<text x="284.30" y="162.70" font-size="4.6" text-anchor="end" fill="#1a1a1a" font-weight="bold" stroke="#1a1a1a" stroke-width="0.25">3</text>
<line x1="284.80" y1="147.30" x2="287.20" y2="147.30" stroke="#1a1a1a" stroke-width="0.8"/>
<text x="284.30" y="148.90" font-size="4.6" text-anchor="end" fill="#1a1a1a" font-weight="bold" stroke="#1a1a1a" stroke-width="0.25">4</text>
<line x1="284.80" y1="133.40" x2="287.20" y2="133.40" stroke="#1a1a1a" stroke-width="0.8"/>
<text x="284.30" y="135.00" font-size="4.6" text-anchor="end" fill="#1a1a1a" font-weight="bold" stroke="#1a1a1a" stroke-width="0.25">5</text>
<line x1="287.20" y1="202.60" x2="287.20" y2="204.80" stroke="#1a1a1a" stroke-width="0.8"/>
<text x="287.20" y="210.00" font-size="4.6" text-anchor="middle" fill="#1a1a1a" font-weight="bold" stroke="#1a1a1a" stroke-width="0.25">2</text>
<line x1="310.20" y1="202.60" x2="310.20" y2="204.80" stroke="#1a1a1a" stroke-width="0.8"/>
<text x="310.20" y="210.00" font-size="4.6" text-anchor="middle" fill="#1a1a1a" font-weight="bold" stroke="#1a1a1a" stroke-width="0.25">4</text>
<line x1="333.10" y1="202.60" x2="333.10" y2="204.80" stroke="#1a1a1a" stroke-width="0.8"/>
<text x="333.10" y="210.00" font-size="4.6" text-anchor="middle" fill="#1a1a1a" font-weight="bold" stroke="#1a1a1a" stroke-width="0.25">6</text>
<line x1="356.00" y1="202.60" x2="356.00" y2="204.80" stroke="#1a1a1a" stroke-width="0.8"/>
<text x="356.00" y="210.00" font-size="4.6" text-anchor="middle" fill="#1a1a1a" font-weight="bold" stroke="#1a1a1a" stroke-width="0.25">8</text>
<line x1="379.00" y1="202.60" x2="379.00" y2="204.80" stroke="#1a1a1a" stroke-width="0.8"/>
<text x="379.00" y="210.00" font-size="4.6" text-anchor="middle" fill="#1a1a1a" font-weight="bold" stroke="#1a1a1a" stroke-width="0.25">10</text>
<text x="339.00" y="218.40" font-size="5.4" text-anchor="middle" fill="#1a1a1a" font-weight="bold" stroke="#1a1a1a" stroke-width="0.05" textLength="31.2" lengthAdjust="spacingAndGlyphs">lg virus load</text>
<text x="277.70" y="167.90" font-size="5.4" text-anchor="middle" fill="#1a1a1a" font-weight="bold" stroke="#1a1a1a" stroke-width="0.1" transform="rotate(-90 277.7 167.9)" textLength="15.8" lengthAdjust="spacingAndGlyphs">lg IL-6</text>
<circle cx="308.20" cy="165.50" r="1.05" fill="#b533e6"/>
<circle cx="334.70" cy="155.70" r="1.05" fill="#b533e6"/>
<circle cx="306.00" cy="182.50" r="1.05" fill="#b533e6"/>
<circle cx="315.70" cy="184.50" r="1.05" fill="#b533e6"/>
<circle cx="320.75" cy="180.30" r="1.05" fill="#b533e6"/>
<circle cx="326.30" cy="173.90" r="1.05" fill="#b533e6"/>
<circle cx="328.30" cy="181.10" r="1.05" fill="#b533e6"/>
<circle cx="330.25" cy="181.10" r="1.05" fill="#b533e6"/>
<circle cx="311.50" cy="195.60" r="1.05" fill="#b533e6"/>
<circle cx="333.00" cy="192.00" r="1.05" fill="#b533e6"/>
<circle cx="351.80" cy="150.40" r="1.05" fill="#b533e6"/>
<circle cx="364.90" cy="152.30" r="1.05" fill="#b533e6"/>
<circle cx="370.50" cy="152.30" r="1.05" fill="#b533e6"/>
<circle cx="376.10" cy="147.30" r="1.05" fill="#b533e6"/>
<circle cx="373.30" cy="154.60" r="1.05" fill="#b533e6"/>
<circle cx="349.60" cy="158.50" r="1.05" fill="#b533e6"/>
<circle cx="354.60" cy="158.50" r="1.05" fill="#b533e6"/>
<circle cx="337.80" cy="167.15" r="1.05" fill="#b533e6"/>
<circle cx="336.10" cy="170.50" r="1.05" fill="#b533e6"/>
<circle cx="346.20" cy="167.70" r="1.05" fill="#b533e6"/>
<circle cx="349.00" cy="165.75" r="1.05" fill="#b533e6"/>
<circle cx="350.10" cy="168.50" r="1.05" fill="#b533e6"/>
<circle cx="360.20" cy="167.70" r="1.05" fill="#b533e6"/>
<circle cx="352.30" cy="171.90" r="1.05" fill="#b533e6"/>
<circle cx="353.70" cy="173.30" r="1.05" fill="#b533e6"/>
<circle cx="351.80" cy="174.70" r="1.05" fill="#b533e6"/>
<circle cx="340.60" cy="180.30" r="1.05" fill="#b533e6"/>
<circle cx="345.40" cy="178.90" r="1.05" fill="#b533e6"/>
<circle cx="351.00" cy="178.00" r="1.05" fill="#b533e6"/>
<circle cx="360.70" cy="178.00" r="1.05" fill="#b533e6"/>
<circle cx="347.30" cy="183.10" r="1.05" fill="#b533e6"/>
<circle cx="351.00" cy="183.60" r="1.05" fill="#b533e6"/>
<circle cx="357.40" cy="183.90" r="1.05" fill="#b533e6"/>
<circle cx="375.50" cy="174.70" r="1.05" fill="#b533e6"/>
<circle cx="376.90" cy="175.50" r="1.05" fill="#b533e6"/>
<circle cx="333.40" cy="192.00" r="1.05" fill="#b533e6"/>
<line x1="306.00" y1="184.50" x2="376.90" y2="160.20" stroke="#3a55d8" stroke-width="1.5"/>
<text x="368.6" y="134.2" font-size="4.6" fill="#1a1a1a" font-weight="bold" stroke="#1a1a1a" stroke-width="0.2">R<tspan font-size="3.0" dy="-1.7">2</tspan><tspan dy="1.7" dx="0.5">=0.101</tspan></text>
<text x="368.60" y="139.90" font-size="4.6" text-anchor="start" fill="#1a1a1a" font-weight="bold" stroke="#1a1a1a" stroke-width="0.2">P &lt; 0.001</text>
<text x="393.00" y="129.30" font-size="5.0" text-anchor="start" fill="#1a1a1a" font-weight="bold" stroke="#1a1a1a" stroke-width="0.3">D</text>
<line x1="405.50" y1="133.00" x2="405.50" y2="201.80" stroke="#1a1a1a" stroke-width="1.1"/>
<line x1="405.50" y1="201.80" x2="509.50" y2="201.80" stroke="#1a1a1a" stroke-width="1.1"/>
<line x1="403.10" y1="192.90" x2="405.50" y2="192.90" stroke="#1a1a1a" stroke-width="0.8"/>
<text x="402.60" y="194.50" font-size="4.6" text-anchor="end" fill="#1a1a1a" font-weight="bold" stroke="#1a1a1a" stroke-width="0.25">2</text>
<line x1="403.10" y1="172.90" x2="405.50" y2="172.90" stroke="#1a1a1a" stroke-width="0.8"/>
<text x="402.60" y="174.50" font-size="4.6" text-anchor="end" fill="#1a1a1a" font-weight="bold" stroke="#1a1a1a" stroke-width="0.25">3</text>
<line x1="403.10" y1="153.30" x2="405.50" y2="153.30" stroke="#1a1a1a" stroke-width="0.8"/>
<text x="402.60" y="154.90" font-size="4.6" text-anchor="end" fill="#1a1a1a" font-weight="bold" stroke="#1a1a1a" stroke-width="0.25">4</text>
<line x1="403.10" y1="133.60" x2="405.50" y2="133.60" stroke="#1a1a1a" stroke-width="0.8"/>
<text x="402.60" y="135.20" font-size="4.6" text-anchor="end" fill="#1a1a1a" font-weight="bold" stroke="#1a1a1a" stroke-width="0.25">5</text>
<line x1="405.50" y1="201.80" x2="405.50" y2="204.00" stroke="#1a1a1a" stroke-width="0.8"/>
<text x="405.50" y="209.20" font-size="4.6" text-anchor="middle" fill="#1a1a1a" font-weight="bold" stroke="#1a1a1a" stroke-width="0.25">2.0</text>
<line x1="440.00" y1="201.80" x2="440.00" y2="204.00" stroke="#1a1a1a" stroke-width="0.8"/>
<text x="440.00" y="209.20" font-size="4.6" text-anchor="middle" fill="#1a1a1a" font-weight="bold" stroke="#1a1a1a" stroke-width="0.25">2.5</text>
<line x1="474.50" y1="201.80" x2="474.50" y2="204.00" stroke="#1a1a1a" stroke-width="0.8"/>
<text x="474.50" y="209.20" font-size="4.6" text-anchor="middle" fill="#1a1a1a" font-weight="bold" stroke="#1a1a1a" stroke-width="0.25">3.0</text>
<line x1="509.00" y1="201.80" x2="509.00" y2="204.00" stroke="#1a1a1a" stroke-width="0.8"/>
<text x="509.00" y="209.20" font-size="4.6" text-anchor="middle" fill="#1a1a1a" font-weight="bold" stroke="#1a1a1a" stroke-width="0.25">3.5</text>
<text x="457.50" y="218.20" font-size="5.3" text-anchor="middle" fill="#1a1a1a" font-weight="bold" stroke="#1a1a1a" stroke-width="0.05" textLength="16.5" lengthAdjust="spacingAndGlyphs">lg LDH</text>
<text x="395.60" y="168.00" font-size="5.0" text-anchor="middle" fill="#1a1a1a" font-weight="bold" stroke="#1a1a1a" stroke-width="0.1" transform="rotate(-90 395.6 168.0)" textLength="13.0" lengthAdjust="spacingAndGlyphs">lgIL-6</text>
<circle cx="414.80" cy="147.30" r="1.05" fill="#b533e6"/>
<circle cx="416.90" cy="147.30" r="1.05" fill="#b533e6"/>
<circle cx="424.60" cy="150.10" r="1.05" fill="#b533e6"/>
<circle cx="428.70" cy="147.30" r="1.05" fill="#b533e6"/>
<circle cx="431.00" cy="151.80" r="1.05" fill="#b533e6"/>
<circle cx="432.90" cy="150.10" r="1.05" fill="#b533e6"/>
<circle cx="438.00" cy="149.00" r="1.05" fill="#b533e6"/>
<circle cx="440.75" cy="149.55" r="1.05" fill="#b533e6"/>
<circle cx="442.90" cy="149.55" r="1.05" fill="#b533e6"/>
<circle cx="450.25" cy="148.20" r="1.05" fill="#b533e6"/>
<circle cx="416.20" cy="155.10" r="1.05" fill="#b533e6"/>
<circle cx="422.30" cy="157.40" r="1.05" fill="#b533e6"/>
<circle cx="425.10" cy="155.70" r="1.05" fill="#b533e6"/>
<circle cx="426.00" cy="160.20" r="1.05" fill="#b533e6"/>
<circle cx="438.00" cy="157.90" r="1.05" fill="#b533e6"/>
<circle cx="439.90" cy="160.20" r="1.05" fill="#b533e6"/>
<circle cx="446.30" cy="159.30" r="1.05" fill="#b533e6"/>
<circle cx="421.20" cy="164.10" r="1.05" fill="#b533e6"/>
<circle cx="419.50" cy="167.70" r="1.05" fill="#b533e6"/>
<circle cx="424.00" cy="171.90" r="1.05" fill="#b533e6"/>
<circle cx="428.70" cy="172.50" r="1.05" fill="#b533e6"/>
<circle cx="453.00" cy="170.50" r="1.05" fill="#b533e6"/>
<circle cx="417.60" cy="180.30" r="1.05" fill="#b533e6"/>
<circle cx="418.40" cy="178.60" r="1.05" fill="#b533e6"/>
<circle cx="430.10" cy="179.70" r="1.05" fill="#b533e6"/>
<circle cx="431.50" cy="182.50" r="1.05" fill="#b533e6"/>
<circle cx="440.75" cy="182.50" r="1.05" fill="#b533e6"/>
<circle cx="422.30" cy="187.30" r="1.05" fill="#b533e6"/>
<circle cx="415.60" cy="195.10" r="1.05" fill="#b533e6"/>
<circle cx="421.80" cy="195.60" r="1.05" fill="#b533e6"/>
<circle cx="431.50" cy="196.50" r="1.05" fill="#b533e6"/>
<circle cx="464.50" cy="145.40" r="1.05" fill="#b533e6"/>
<circle cx="465.40" cy="151.80" r="1.05" fill="#b533e6"/>
<circle cx="468.20" cy="156.50" r="1.05" fill="#b533e6"/>
<circle cx="500.30" cy="141.20" r="1.05" fill="#b533e6"/>
<circle cx="499.70" cy="148.20" r="1.05" fill="#b533e6"/>
<line x1="414.00" y1="168.50" x2="500.80" y2="141.20" stroke="#3a55d8" stroke-width="1.5"/>
<text x="493.8" y="134.0" font-size="4.6" fill="#1a1a1a" font-weight="bold" stroke="#1a1a1a" stroke-width="0.2">R<tspan font-size="3.0" dy="-1.7">2</tspan><tspan dy="1.7" dx="0.5">=0.161</tspan></text>
<text x="493.80" y="138.90" font-size="4.6" text-anchor="start" fill="#1a1a1a" font-weight="bold" stroke="#1a1a1a" stroke-width="0.2">P=0.010</text>
<text x="9.5" y="243.00" font-family="Liberation Serif, serif" font-weight="normal" font-size="6.74" fill="#222" stroke="#222" stroke-width="0.18">Figure 1. Peak serum level of cytokine, procalcitonin (PCT), C-reactive protein (CRP),</text>
<text x="9.5" y="250.78" font-family="Liberation Serif, serif" font-weight="normal" font-size="6.74" fill="#222" stroke="#222" stroke-width="0.18">D-dimer (DDI) and ferritin in patients with grade 3-4 CRS in COVID-19 group (n=40)</text>
<text x="9.5" y="258.56" font-family="Liberation Serif, serif" font-weight="normal" font-size="6.74" fill="#222" stroke="#222" stroke-width="0.18">and CAR-T group (n=41). Data were described as median (IQR). The Mann-Whitney U</text>
<text x="9.5" y="266.34" font-family="Liberation Serif, serif" font-weight="normal" font-size="6.74" fill="#222" stroke="#222" stroke-width="0.18">test was used for statistical analysis.</text>
<text x="277" y="243.80" font-family="Liberation Serif, serif" font-weight="normal" font-size="6.72" fill="#2a2a2a" stroke="#2a2a2a" stroke-width="0.14">Figure 2. Correlation between virus load/tumor burden and cytokine levels with</text>
<text x="277" y="251.70" font-family="Liberation Serif, serif" font-weight="normal" font-size="6.72" fill="#2a2a2a" stroke="#2a2a2a" stroke-width="0.14">sCRS in COVID-19 group (n=40) and CAR-T group (n=41). Pearson correlation</text>
<text x="277" y="259.60" font-family="Liberation Serif, serif" font-weight="normal" font-size="6.72" fill="#2a2a2a" stroke="#2a2a2a" stroke-width="0.14">and linear regression was used for statistical analysis. LDH: Lactate dehydrogenase.</text>
</svg></body></html>
